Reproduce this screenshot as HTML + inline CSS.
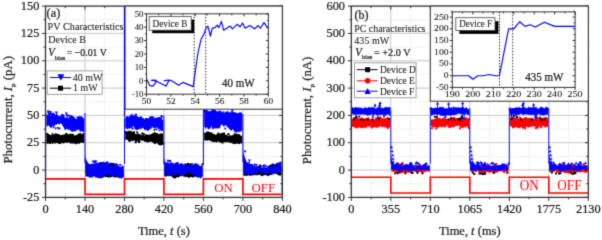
<!DOCTYPE html>
<html><head><meta charset="utf-8"><style>
html,body{margin:0;padding:0;background:#fff;width:602px;height:238px;overflow:hidden;position:relative}
text{font-family:"Liberation Serif", serif}
</style></head><body>
<svg width="602" height="238" viewBox="0 0 602 238" style="position:absolute;left:0;top:0">
<defs><filter id="bl" x="0" y="0" width="602" height="238" filterUnits="userSpaceOnUse" color-interpolation-filters="sRGB"><feConvolveMatrix order="3" kernelMatrix="0.01917 0.10012 0.01917 0.10012 0.52283 0.10012 0.01917 0.10012 0.01917" edgeMode="duplicate" preserveAlpha="false"/></filter></defs>
<rect width="602" height="238" fill="#fff"/>
<g font-family='"Liberation Serif", serif' fill="#1a1a1a" filter="url(#bl)">
<path d="M65.2 6.1V197.4M85.0 6.1V197.4M104.7 6.1V197.4M124.5 6.1V197.4M144.2 6.1V197.4M163.9 6.1V197.4M183.7 6.1V197.4M203.4 6.1V197.4M223.2 6.1V197.4M242.9 6.1V197.4M262.7 6.1V197.4M45.5 183.7H282.4M45.5 170.1H282.4M45.5 156.4H282.4M45.5 142.7H282.4M45.5 129.1H282.4M45.5 115.4H282.4M45.5 101.8H282.4M45.5 88.1H282.4M45.5 74.4H282.4M45.5 60.8H282.4M45.5 47.1H282.4M45.5 33.4H282.4M45.5 19.8H282.4" stroke="#e6e6e6" stroke-width="1" stroke-dasharray="1.5 1.5" fill="none"/>
<path d="M85.0 6.1V197.4M124.5 6.1V197.4M163.9 6.1V197.4M203.4 6.1V197.4M242.9 6.1V197.4M45.5 170.1H282.4M45.5 142.7H282.4M45.5 115.4H282.4M45.5 88.1H282.4M45.5 60.8H282.4M45.5 33.4H282.4" stroke="#cccccc" stroke-width="1" fill="none"/>
<path d="M45.5 178.9H85.0V194.4H124.5V178.9H163.9V194.4H203.4V178.9H242.9V194.4H282.4" stroke="#ff0000" stroke-width="1.6" fill="none"/>
<path d="M46.3 134.3L46.8 134.5L47.3 134.4L47.8 134.3L48.3 133.9L48.8 133.9L49.3 134.5L49.8 134.6L50.3 135.1L50.8 135.1L51.4 135.2L51.9 135.1L52.4 134.3L52.9 134.7L53.4 134.9L53.9 135.1L54.4 134.2L54.9 133.5L55.4 133.2L55.9 133.2L56.4 133.5L56.9 133.6L57.4 134.0L57.9 133.8L58.4 134.0L58.9 134.3L59.4 134.0L59.9 134.8L60.4 135.0L60.9 135.5L61.5 135.1L62.0 134.7L62.5 134.5L63.0 134.4L63.5 134.7L64.0 134.8L64.5 134.6L65.0 134.1L65.5 133.9L66.0 134.6L66.5 134.2L67.0 134.4L67.5 134.6L68.0 133.9L68.5 134.0L69.0 134.7L69.5 133.8L70.0 133.7L70.5 133.8L71.1 133.5L71.6 133.9L72.1 134.0L72.6 133.4L73.1 134.0L73.6 134.3L74.1 134.8L74.6 135.4L75.1 135.5L75.6 135.4L76.1 134.7L76.6 134.9L77.1 134.6L77.6 134.4L78.1 133.9L78.6 133.5L79.1 133.4L79.6 134.2L80.1 133.3L80.6 132.9L81.2 133.2L81.7 134.1L82.2 134.4L82.7 133.6L83.2 132.6L83.7 133.1L84.2 133.0L84.2 142.8L83.7 143.1L83.2 143.0L82.7 142.7L82.2 142.9L81.7 142.8L81.2 142.6L80.6 142.4L80.1 142.9L79.6 144.3L79.1 143.6L78.6 143.5L78.1 143.8L77.6 143.5L77.1 143.6L76.6 144.0L76.1 144.4L75.6 144.6L75.1 143.8L74.6 143.7L74.1 143.4L73.6 143.6L73.1 143.4L72.6 143.4L72.1 143.6L71.6 143.4L71.1 143.5L70.5 143.5L70.0 143.5L69.5 143.1L69.0 142.6L68.5 142.2L68.0 142.6L67.5 143.2L67.0 142.6L66.5 143.1L66.0 142.5L65.5 142.6L65.0 142.7L64.5 142.7L64.0 143.4L63.5 143.8L63.0 143.2L62.5 142.8L62.0 143.3L61.5 143.4L60.9 143.0L60.4 143.2L59.9 143.7L59.4 143.3L58.9 143.3L58.4 143.1L57.9 143.0L57.4 143.1L56.9 142.9L56.4 142.1L55.9 142.6L55.4 142.1L54.9 142.1L54.4 143.0L53.9 142.6L53.4 142.9L52.9 144.0L52.4 143.9L51.9 143.6L51.4 143.1L50.8 144.1L50.3 144.0L49.8 144.0L49.3 143.9L48.8 143.3L48.3 143.1L47.8 143.1L47.3 143.1L46.8 142.6L46.3 142.1z" fill="#000"/>
<path d="M46.2 133.0h2.0v2.0h-2.0zM65.3 134.3h2.0v2.0h-2.0zM65.9 134.5h2.0v2.0h-2.0zM65.3 133.0h2.0v2.0h-2.0zM78.0 133.5h2.0v2.0h-2.0zM55.2 133.9h2.0v2.0h-2.0zM51.6 133.3h2.0v2.0h-2.0zM65.5 133.3h2.0v2.0h-2.0z" fill="#000"/>
<path d="M57.8 141.8h2.0v2.0h-2.0zM76.0 140.8h2.0v2.0h-2.0zM77.6 141.1h2.0v2.0h-2.0zM76.3 141.2h2.0v2.0h-2.0zM53.9 141.4h2.0v2.0h-2.0zM58.8 142.1h2.0v2.0h-2.0zM46.4 141.7h2.0v2.0h-2.0zM55.1 141.1h2.0v2.0h-2.0z" fill="#000"/>
<path d="M46.3 114.0L46.8 113.8L47.3 115.5L47.8 114.6L48.3 115.1L48.8 114.8L49.3 114.8L49.8 115.2L50.3 115.2L50.8 115.5L51.4 114.4L51.9 113.5L52.4 114.0L52.9 113.5L53.4 113.0L53.9 112.3L54.4 113.4L54.9 114.0L55.4 115.0L55.9 114.4L56.4 114.5L56.9 113.8L57.4 114.4L57.9 115.5L58.4 114.9L58.9 115.9L59.4 116.4L59.9 116.2L60.4 114.9L60.9 115.8L61.5 115.7L62.0 115.3L62.5 115.6L63.0 115.8L63.5 116.7L64.0 116.0L64.5 116.7L65.0 117.5L65.5 118.2L66.0 117.8L66.5 117.1L67.0 117.6L67.5 117.5L68.0 117.4L68.5 118.1L69.0 117.8L69.5 116.2L70.0 116.0L70.5 115.0L71.1 115.6L71.6 116.0L72.1 115.7L72.6 115.8L73.1 116.4L73.6 116.5L74.1 117.4L74.6 117.3L75.1 117.9L75.6 118.7L76.1 119.4L76.6 118.8L77.1 119.1L77.6 117.8L78.1 117.1L78.6 115.9L79.1 116.7L79.6 116.1L80.1 116.3L80.6 116.3L81.2 116.5L81.7 116.3L82.2 116.6L82.7 117.8L83.2 117.8L83.7 118.2L84.2 118.8L84.2 132.1L83.7 131.9L83.2 132.2L82.7 132.1L82.2 130.8L81.7 130.4L81.2 129.9L80.6 132.3L80.1 132.0L79.6 131.2L79.1 129.0L78.6 129.6L78.1 130.4L77.6 130.3L77.1 129.6L76.6 129.9L76.1 130.9L75.6 131.2L75.1 131.5L74.6 131.0L74.1 130.9L73.6 131.2L73.1 132.3L72.6 131.8L72.1 131.6L71.6 132.1L71.1 130.7L70.5 130.3L70.0 131.3L69.5 129.4L69.0 129.0L68.5 130.6L68.0 129.0L67.5 129.5L67.0 129.8L66.5 128.7L66.0 127.9L65.5 129.7L65.0 129.4L64.5 128.8L64.0 127.6L63.5 127.2L63.0 126.4L62.5 125.4L62.0 124.3L61.5 124.1L60.9 123.3L60.4 123.3L59.9 124.7L59.4 124.4L58.9 123.2L58.4 124.3L57.9 124.3L57.4 123.5L56.9 125.0L56.4 124.3L55.9 124.8L55.4 124.5L54.9 125.4L54.4 125.8L53.9 126.3L53.4 126.6L52.9 125.6L52.4 125.9L51.9 127.0L51.4 128.0L50.8 127.9L50.3 127.2L49.8 127.1L49.3 126.3L48.8 125.2L48.3 125.5L47.8 126.7L47.3 125.6L46.8 125.9L46.3 126.8z" fill="#0000ff"/>
<path d="M60.8 114.0h3.0l-1.5 2.4zM75.8 116.8h3.0l-1.5 2.4zM50.5 112.8h3.0l-1.5 2.4zM66.4 115.0h3.0l-1.5 2.4zM48.2 114.1h3.0l-1.5 2.4zM70.9 116.0h3.0l-1.5 2.4zM47.5 112.5h3.0l-1.5 2.4zM68.8 115.1h3.0l-1.5 2.4zM48.0 112.7h3.0l-1.5 2.4zM47.3 112.6h3.0l-1.5 2.4zM62.0 115.1h3.0l-1.5 2.4zM65.8 114.5h3.0l-1.5 2.4z" fill="#0000ff"/>
<path d="M56.4 115.5V112.8M66.3 116.6V113.6M50.4 114.9V112.0M48.2 114.6V111.7" stroke="#0000ff" stroke-width="0.9" fill="none"/>
<path d="M54.8 111.6h3.2l-1.6 2.6zM64.7 112.5h3.2l-1.6 2.6zM48.8 110.9h3.2l-1.6 2.6zM46.6 110.6h3.2l-1.6 2.6z" fill="#0000ff"/>
<path d="M56.7 127.2h2.8l-1.4 2.2zM73.7 128.6h2.8l-1.4 2.2zM63.8 128.0h2.8l-1.4 2.2zM58.0 127.8h2.8l-1.4 2.2zM54.4 127.5h2.8l-1.4 2.2zM72.7 128.0h2.8l-1.4 2.2zM52.1 126.5h2.8l-1.4 2.2zM80.3 129.4h2.8l-1.4 2.2z" fill="#0000ff"/>
<path d="M125.3 132.4L125.8 132.0L126.3 131.2L126.8 131.4L127.3 131.1L127.8 131.7L128.3 131.3L128.8 130.3L129.3 130.2L129.8 131.2L130.3 131.3L130.8 130.8L131.3 130.8L131.8 131.3L132.3 131.7L132.8 131.9L133.3 132.7L133.9 133.0L134.4 133.0L134.9 133.2L135.4 133.9L135.9 134.2L136.4 134.5L136.9 133.7L137.4 133.5L137.9 133.8L138.4 133.5L138.9 133.9L139.4 134.1L139.9 134.3L140.4 134.0L140.9 135.0L141.4 135.3L141.9 134.9L142.4 134.7L142.9 135.6L143.5 135.1L144.0 135.2L144.5 135.4L145.0 135.0L145.5 134.3L146.0 134.2L146.5 134.2L147.0 134.6L147.5 134.8L148.0 134.6L148.5 134.8L149.0 134.8L149.5 134.7L150.0 134.6L150.5 134.3L151.0 134.5L151.5 133.9L152.0 133.6L152.5 133.6L153.0 132.9L153.6 132.8L154.1 132.1L154.6 132.0L155.1 132.5L155.6 133.0L156.1 133.1L156.6 133.1L157.1 132.6L157.6 133.6L158.1 133.9L158.6 134.4L159.1 133.9L159.6 133.8L160.1 133.0L160.6 133.5L161.1 134.0L161.6 133.2L162.1 133.3L162.6 133.7L163.1 133.0L163.1 144.5L162.6 145.1L162.1 144.6L161.6 145.3L161.1 145.2L160.6 145.5L160.1 145.5L159.6 145.3L159.1 145.1L158.6 144.7L158.1 144.6L157.6 143.6L157.1 143.2L156.6 143.0L156.1 143.2L155.6 144.4L155.1 144.0L154.6 144.0L154.1 143.5L153.6 143.6L153.0 142.4L152.5 142.5L152.0 142.0L151.5 141.7L151.0 141.7L150.5 141.5L150.0 141.8L149.5 141.9L149.0 141.9L148.5 142.4L148.0 142.7L147.5 142.5L147.0 142.0L146.5 141.9L146.0 141.8L145.5 142.0L145.0 141.9L144.5 141.4L144.0 141.0L143.5 140.8L142.9 140.6L142.4 141.0L141.9 140.7L141.4 140.2L140.9 140.6L140.4 140.3L139.9 140.4L139.4 141.5L138.9 141.4L138.4 141.6L137.9 141.6L137.4 141.3L136.9 140.8L136.4 140.9L135.9 140.7L135.4 140.7L134.9 140.5L134.4 140.3L133.9 140.6L133.3 141.3L132.8 140.9L132.3 140.7L131.8 140.6L131.3 140.9L130.8 141.4L130.3 141.6L129.8 142.3L129.3 141.8L128.8 141.0L128.3 140.6L127.8 140.1L127.3 139.7L126.8 139.4L126.3 139.8L125.8 139.9L125.3 140.2z" fill="#000"/>
<path d="M133.0 131.3h2.0v2.0h-2.0zM142.7 133.0h2.0v2.0h-2.0zM124.4 131.5h2.0v2.0h-2.0zM141.3 132.6h2.0v2.0h-2.0zM129.6 131.9h2.0v2.0h-2.0zM136.2 131.5h2.0v2.0h-2.0zM124.3 131.1h2.0v2.0h-2.0zM156.1 133.5h2.0v2.0h-2.0z" fill="#000"/>
<path d="M159.4 142.2h2.0v2.0h-2.0zM158.4 142.8h2.0v2.0h-2.0zM138.4 141.0h2.0v2.0h-2.0zM162.1 142.6h2.0v2.0h-2.0zM137.9 140.9h2.0v2.0h-2.0zM134.7 141.3h2.0v2.0h-2.0zM128.1 139.6h2.0v2.0h-2.0zM135.1 140.0h2.0v2.0h-2.0z" fill="#000"/>
<path d="M125.3 116.6L125.8 117.1L126.3 116.7L126.8 116.7L127.3 115.6L127.8 116.9L128.3 117.7L128.8 116.9L129.3 116.0L129.8 115.1L130.3 116.1L130.8 115.9L131.3 116.0L131.8 115.9L132.3 116.0L132.8 115.5L133.3 115.7L133.9 115.0L134.4 115.2L134.9 115.7L135.4 116.1L135.9 116.1L136.4 115.7L136.9 116.0L137.4 115.9L137.9 117.0L138.4 117.5L138.9 117.4L139.4 117.2L139.9 116.8L140.4 116.3L140.9 116.2L141.4 116.6L141.9 117.0L142.4 117.4L142.9 118.7L143.5 118.1L144.0 118.1L144.5 119.7L145.0 118.4L145.5 118.0L146.0 118.0L146.5 118.1L147.0 118.3L147.5 118.1L148.0 118.3L148.5 118.3L149.0 118.7L149.5 117.5L150.0 117.0L150.5 117.1L151.0 116.6L151.5 116.1L152.0 116.8L152.5 116.5L153.0 117.1L153.6 117.7L154.1 117.9L154.6 118.2L155.1 118.2L155.6 117.3L156.1 117.4L156.6 117.8L157.1 117.5L157.6 117.6L158.1 118.1L158.6 117.6L159.1 118.1L159.6 119.2L160.1 118.8L160.6 118.9L161.1 118.7L161.6 119.6L162.1 119.7L162.6 120.1L163.1 119.5L163.1 131.5L162.6 130.8L162.1 130.8L161.6 130.9L161.1 131.6L160.6 129.7L160.1 130.3L159.6 128.9L159.1 128.5L158.6 128.9L158.1 128.5L157.6 128.5L157.1 127.5L156.6 127.2L156.1 127.5L155.6 128.6L155.1 128.1L154.6 128.4L154.1 128.5L153.6 127.5L153.0 127.7L152.5 127.2L152.0 126.9L151.5 128.3L151.0 129.2L150.5 128.8L150.0 129.3L149.5 129.3L149.0 130.6L148.5 130.6L148.0 130.8L147.5 131.4L147.0 130.3L146.5 129.7L146.0 129.7L145.5 130.4L145.0 129.8L144.5 130.2L144.0 129.1L143.5 128.1L142.9 128.2L142.4 128.2L141.9 128.1L141.4 127.6L140.9 127.9L140.4 127.9L139.9 128.9L139.4 128.6L138.9 128.3L138.4 129.2L137.9 130.2L137.4 129.8L136.9 129.5L136.4 130.2L135.9 130.8L135.4 129.0L134.9 128.8L134.4 128.4L133.9 126.7L133.3 126.1L132.8 126.9L132.3 127.8L131.8 128.6L131.3 129.1L130.8 127.8L130.3 127.8L129.8 129.1L129.3 128.8L128.8 128.4L128.3 128.4L127.8 127.7L127.3 129.2L126.8 128.4L126.3 127.1L125.8 128.5L125.3 128.5z" fill="#0000ff"/>
<path d="M149.0 116.5h3.0l-1.5 2.4zM129.3 116.6h3.0l-1.5 2.4zM131.8 115.7h3.0l-1.5 2.4zM129.1 117.2h3.0l-1.5 2.4zM126.0 116.5h3.0l-1.5 2.4zM157.8 117.1h3.0l-1.5 2.4zM151.5 116.6h3.0l-1.5 2.4zM159.1 118.1h3.0l-1.5 2.4zM130.8 115.7h3.0l-1.5 2.4zM152.0 118.3h3.0l-1.5 2.4zM148.9 117.6h3.0l-1.5 2.4zM137.9 117.1h3.0l-1.5 2.4z" fill="#0000ff"/>
<path d="M131.7 117.9V115.4M135.9 118.1V114.9M161.5 119.3V116.6M161.8 119.3V116.4" stroke="#0000ff" stroke-width="0.9" fill="none"/>
<path d="M130.1 114.3h3.2l-1.6 2.6zM134.3 113.8h3.2l-1.6 2.6zM159.9 115.5h3.2l-1.6 2.6zM160.2 115.3h3.2l-1.6 2.6z" fill="#0000ff"/>
<path d="M137.4 127.3h2.8l-1.4 2.2zM155.0 128.6h2.8l-1.4 2.2zM125.7 127.5h2.8l-1.4 2.2zM138.0 127.1h2.8l-1.4 2.2zM131.2 127.9h2.8l-1.4 2.2zM157.8 129.4h2.8l-1.4 2.2zM139.4 127.4h2.8l-1.4 2.2zM152.9 129.2h2.8l-1.4 2.2z" fill="#0000ff"/>
<path d="M204.2 132.4L204.7 132.4L205.2 132.7L205.7 132.5L206.3 132.5L206.8 131.6L207.3 131.6L207.8 132.0L208.3 132.8L208.8 132.6L209.3 132.6L209.8 133.4L210.3 133.1L210.8 133.5L211.3 134.1L211.8 134.0L212.3 134.4L212.8 133.9L213.3 133.9L213.8 133.8L214.3 133.8L214.8 134.2L215.3 135.2L215.9 134.6L216.4 134.2L216.9 134.3L217.4 133.7L217.9 133.9L218.4 134.1L218.9 133.9L219.4 134.1L219.9 133.4L220.4 133.8L220.9 133.1L221.4 132.9L221.9 132.8L222.4 132.8L222.9 133.4L223.4 133.5L223.9 133.4L224.4 133.8L224.9 134.6L225.4 134.5L226.0 134.6L226.5 135.1L227.0 135.2L227.5 134.5L228.0 135.6L228.5 136.4L229.0 135.2L229.5 135.1L230.0 135.2L230.5 135.6L231.0 135.7L231.5 135.5L232.0 134.9L232.5 134.9L233.0 135.4L233.5 134.8L234.0 134.4L234.5 134.5L235.0 133.7L235.6 133.8L236.1 133.8L236.6 134.2L237.1 134.0L237.6 133.8L238.1 133.9L238.6 134.1L239.1 134.0L239.6 134.2L240.1 134.7L240.6 135.4L241.1 136.2L241.6 135.7L242.1 135.5L242.1 143.7L241.6 143.7L241.1 143.0L240.6 142.9L240.1 143.2L239.6 142.5L239.1 143.3L238.6 142.9L238.1 143.7L237.6 143.8L237.1 142.8L236.6 143.1L236.1 143.1L235.6 142.9L235.0 143.1L234.5 144.5L234.0 143.6L233.5 143.3L233.0 143.7L232.5 143.3L232.0 143.6L231.5 142.5L231.0 143.0L230.5 142.8L230.0 143.2L229.5 142.6L229.0 142.1L228.5 142.2L228.0 142.3L227.5 141.9L227.0 142.3L226.5 142.2L226.0 141.9L225.4 142.5L224.9 142.4L224.4 142.0L223.9 142.1L223.4 142.4L222.9 142.6L222.4 142.7L221.9 142.3L221.4 142.6L220.9 142.9L220.4 142.3L219.9 142.4L219.4 142.2L218.9 142.1L218.4 141.6L217.9 141.4L217.4 141.8L216.9 142.4L216.4 142.6L215.9 142.5L215.3 141.7L214.8 141.8L214.3 142.2L213.8 141.9L213.3 142.2L212.8 141.9L212.3 142.0L211.8 141.5L211.3 141.2L210.8 140.9L210.3 140.7L209.8 140.2L209.3 141.0L208.8 140.3L208.3 140.0L207.8 140.7L207.3 140.6L206.8 140.3L206.3 140.9L205.7 140.5L205.2 140.5L204.7 140.7L204.2 139.7z" fill="#000"/>
<path d="M227.5 132.9h2.0v2.0h-2.0zM206.6 131.6h2.0v2.0h-2.0zM217.3 132.6h2.0v2.0h-2.0zM208.8 132.2h2.0v2.0h-2.0zM223.0 132.5h2.0v2.0h-2.0zM207.4 131.8h2.0v2.0h-2.0zM233.7 133.3h2.0v2.0h-2.0zM210.7 132.6h2.0v2.0h-2.0z" fill="#000"/>
<path d="M239.0 141.1h2.0v2.0h-2.0zM221.5 141.4h2.0v2.0h-2.0zM238.3 141.9h2.0v2.0h-2.0zM237.5 141.5h2.0v2.0h-2.0zM234.5 142.0h2.0v2.0h-2.0zM233.0 141.9h2.0v2.0h-2.0zM218.6 140.0h2.0v2.0h-2.0zM234.6 142.0h2.0v2.0h-2.0z" fill="#000"/>
<path d="M204.2 110.9L204.7 111.5L205.2 110.9L205.7 110.9L206.3 111.2L206.8 111.6L207.3 111.3L207.8 110.1L208.3 111.0L208.8 111.2L209.3 111.3L209.8 111.1L210.3 111.4L210.8 111.1L211.3 110.6L211.8 110.3L212.3 110.1L212.8 109.9L213.3 109.5L213.8 110.1L214.3 109.5L214.8 110.2L215.3 109.8L215.9 110.3L216.4 111.3L216.9 111.6L217.4 111.2L217.9 111.3L218.4 111.5L218.9 110.6L219.4 110.4L219.9 110.7L220.4 110.7L220.9 110.9L221.4 111.5L221.9 112.1L222.4 112.7L222.9 113.0L223.4 112.8L223.9 112.8L224.4 112.6L224.9 112.4L225.4 112.4L226.0 111.4L226.5 111.4L227.0 111.5L227.5 111.1L228.0 111.3L228.5 111.8L229.0 111.9L229.5 113.3L230.0 111.7L230.5 111.7L231.0 110.8L231.5 111.7L232.0 113.5L232.5 112.0L233.0 112.2L233.5 112.7L234.0 112.6L234.5 113.0L235.0 111.7L235.6 112.5L236.1 112.8L236.6 112.9L237.1 112.7L237.6 113.2L238.1 113.0L238.6 113.2L239.1 113.0L239.6 111.7L240.1 112.0L240.6 112.3L241.1 113.0L241.6 112.6L242.1 112.8L242.1 130.7L241.6 131.2L241.1 129.9L240.6 130.6L240.1 131.2L239.6 131.6L239.1 132.5L238.6 132.6L238.1 131.6L237.6 131.4L237.1 132.1L236.6 133.5L236.1 132.8L235.6 132.4L235.0 131.7L234.5 131.4L234.0 131.5L233.5 130.1L233.0 128.7L232.5 129.3L232.0 129.9L231.5 130.3L231.0 130.8L230.5 129.8L230.0 129.6L229.5 129.1L229.0 128.4L228.5 128.2L228.0 127.2L227.5 127.1L227.0 126.9L226.5 126.0L226.0 125.2L225.4 124.8L224.9 126.1L224.4 126.3L223.9 126.7L223.4 126.3L222.9 125.4L222.4 124.9L221.9 124.4L221.4 124.5L220.9 125.0L220.4 126.5L219.9 127.9L219.4 128.5L218.9 128.2L218.4 128.4L217.9 128.5L217.4 128.3L216.9 128.8L216.4 127.7L215.9 128.6L215.3 128.7L214.8 127.6L214.3 128.3L213.8 128.1L213.3 128.8L212.8 129.6L212.3 128.0L211.8 125.8L211.3 126.5L210.8 128.0L210.3 128.8L209.8 128.2L209.3 129.0L208.8 129.7L208.3 129.3L207.8 128.8L207.3 127.6L206.8 126.8L206.3 128.5L205.7 129.6L205.2 128.1L204.7 127.1L204.2 127.0z" fill="#0000ff"/>
<path d="M212.1 110.4h3.0l-1.5 2.4zM204.4 110.4h3.0l-1.5 2.4zM218.1 112.0h3.0l-1.5 2.4zM204.9 110.0h3.0l-1.5 2.4zM203.2 110.3h3.0l-1.5 2.4zM238.4 113.8h3.0l-1.5 2.4zM210.3 110.8h3.0l-1.5 2.4zM221.9 111.6h3.0l-1.5 2.4zM233.5 113.4h3.0l-1.5 2.4zM214.5 111.6h3.0l-1.5 2.4zM204.6 109.8h3.0l-1.5 2.4zM232.4 112.3h3.0l-1.5 2.4z" fill="#0000ff"/>
<path d="M204.5 111.8V107.6M232.5 114.0V110.6M232.3 114.0V110.6M212.8 112.5V109.8" stroke="#0000ff" stroke-width="0.9" fill="none"/>
<path d="M202.9 106.5h3.2l-1.6 2.6zM230.9 109.5h3.2l-1.6 2.6zM230.7 109.5h3.2l-1.6 2.6zM211.2 108.6h3.2l-1.6 2.6z" fill="#0000ff"/>
<path d="M211.6 127.2h2.8l-1.4 2.2zM215.5 126.3h2.8l-1.4 2.2zM229.2 127.6h2.8l-1.4 2.2zM229.8 128.7h2.8l-1.4 2.2zM223.8 127.8h2.8l-1.4 2.2zM232.7 128.5h2.8l-1.4 2.2zM212.9 126.2h2.8l-1.4 2.2zM239.4 129.8h2.8l-1.4 2.2z" fill="#0000ff"/>
<path d="M85.5 157.6L86.0 160.9L86.5 162.7L87.0 164.0L87.5 164.4L88.0 163.7L88.5 164.0L89.0 163.9L89.5 164.4L90.0 164.3L90.5 164.5L91.0 165.6L91.5 165.1L92.0 164.8L92.5 164.3L93.0 163.6L93.5 163.2L94.0 163.7L94.5 163.8L95.0 163.4L95.5 163.2L96.0 163.9L96.5 163.9L97.0 164.1L97.5 164.5L98.0 165.4L98.5 166.3L99.0 166.7L99.6 166.7L100.1 166.8L100.6 167.5L101.1 167.9L101.6 167.6L102.1 167.7L102.6 167.7L103.1 167.6L103.6 167.3L104.1 166.7L104.6 166.6L105.1 166.0L105.6 166.7L106.1 167.0L106.6 166.6L107.1 167.2L107.6 167.6L108.1 166.8L108.6 167.7L109.1 168.0L109.6 168.8L110.1 168.1L110.6 168.3L111.1 168.4L111.6 168.4L112.1 168.4L112.6 168.8L113.1 168.1L113.6 167.6L114.1 167.1L114.6 167.1L115.1 167.0L115.6 167.4L116.1 167.6L116.6 167.8L117.1 167.6L117.6 167.6L118.1 168.1L118.6 168.5L119.1 168.6L119.6 168.5L120.1 169.2L120.7 168.9L121.2 169.2L121.7 169.7L122.2 169.5L122.7 169.8L123.2 169.2L123.7 169.7L123.7 177.7L123.2 177.4L122.7 177.3L122.2 177.1L121.7 176.9L121.2 177.7L120.7 178.0L120.1 177.7L119.6 177.6L119.1 177.9L118.6 177.7L118.1 177.4L117.6 177.1L117.1 177.6L116.6 177.6L116.1 177.2L115.6 176.9L115.1 177.5L114.6 178.0L114.1 177.3L113.6 176.8L113.1 176.4L112.6 176.5L112.1 177.0L111.6 177.0L111.1 177.1L110.6 177.8L110.1 177.4L109.6 177.4L109.1 176.8L108.6 177.4L108.1 177.8L107.6 177.4L107.1 177.1L106.6 177.0L106.1 177.0L105.6 176.9L105.1 177.0L104.6 176.8L104.1 176.5L103.6 176.7L103.1 177.0L102.6 177.3L102.1 178.1L101.6 178.5L101.1 178.4L100.6 177.9L100.1 177.6L99.6 177.2L99.0 177.7L98.5 178.0L98.0 177.9L97.5 178.1L97.0 177.1L96.5 177.2L96.0 176.5L95.5 177.0L95.0 176.5L94.5 176.1L94.0 175.9L93.5 176.6L93.0 176.5L92.5 175.9L92.0 177.0L91.5 176.9L91.0 176.9L90.5 176.6L90.0 176.8L89.5 176.6L89.0 176.7L88.5 176.6L88.0 176.6L87.5 176.9L87.0 176.3L86.5 176.6L86.0 176.2L85.5 176.9z" fill="#000"/>
<path d="M85.3 154.2L85.8 157.6L86.3 159.3L86.8 160.6L87.3 162.0L87.8 162.0L88.3 163.2L88.8 163.8L89.3 164.0L89.8 164.1L90.3 164.7L90.8 164.3L91.3 164.0L91.8 163.3L92.4 163.4L92.9 164.0L93.4 164.1L93.9 164.1L94.4 163.8L94.9 163.8L95.4 162.9L95.9 163.5L96.4 163.2L96.9 162.7L97.4 162.4L97.9 162.1L98.4 162.7L98.9 163.4L99.4 162.7L99.9 163.3L100.4 163.8L100.9 163.5L101.4 162.8L101.9 162.6L102.5 162.4L103.0 162.8L103.5 162.8L104.0 162.0L104.5 162.4L105.0 161.9L105.5 162.7L106.0 162.3L106.5 162.3L107.0 162.2L107.5 162.2L108.0 163.2L108.5 163.9L109.0 164.3L109.5 164.5L110.0 163.8L110.5 163.7L111.0 163.6L111.5 163.3L112.1 163.8L112.6 163.6L113.1 163.5L113.6 163.2L114.1 162.5L114.6 163.2L115.1 164.2L115.6 164.4L116.1 164.1L116.6 163.0L117.1 163.4L117.6 164.4L118.1 164.7L118.6 165.3L119.1 166.1L119.6 166.7L120.1 166.3L120.6 166.8L121.1 167.1L121.6 166.2L122.2 166.0L122.7 165.3L123.2 165.4L123.7 165.8L123.7 177.3L123.2 177.3L122.7 177.2L122.2 177.9L121.6 178.6L121.1 179.0L120.6 177.5L120.1 178.0L119.6 178.4L119.1 177.7L118.6 177.1L118.1 178.1L117.6 177.3L117.1 177.0L116.6 175.8L116.1 176.5L115.6 175.2L115.1 175.8L114.6 176.2L114.1 175.8L113.6 176.9L113.1 176.2L112.6 176.6L112.1 176.1L111.5 176.3L111.0 176.4L110.5 175.2L110.0 174.9L109.5 175.3L109.0 174.7L108.5 175.0L108.0 175.5L107.5 175.1L107.0 175.6L106.5 175.3L106.0 175.3L105.5 175.7L105.0 175.6L104.5 176.3L104.0 177.8L103.5 177.5L103.0 176.9L102.5 177.9L101.9 176.2L101.4 176.0L100.9 175.9L100.4 177.0L99.9 178.4L99.4 178.5L98.9 178.0L98.4 177.4L97.9 177.4L97.4 178.2L96.9 177.2L96.4 177.3L95.9 178.0L95.4 177.5L94.9 176.5L94.4 176.5L93.9 176.1L93.4 176.7L92.9 176.3L92.4 177.6L91.8 177.9L91.3 177.5L90.8 177.0L90.3 177.5L89.8 177.6L89.3 178.2L88.8 177.1L88.3 175.7L87.8 174.9L87.3 175.9L86.8 174.8L86.3 174.4L85.8 173.1L85.3 174.5z" fill="#0000ff"/>
<path d="M94.1 161.1h3.0l-1.5 2.4zM98.2 162.7h3.0l-1.5 2.4zM118.6 164.1h3.0l-1.5 2.4zM91.6 160.6h3.0l-1.5 2.4zM107.8 162.8h3.0l-1.5 2.4zM110.0 162.8h3.0l-1.5 2.4zM114.4 163.5h3.0l-1.5 2.4zM92.7 161.1h3.0l-1.5 2.4zM105.0 162.5h3.0l-1.5 2.4zM101.6 161.8h3.0l-1.5 2.4z" fill="#0000ff"/>
<path d="M107.3 165.0V162.5M95.6 163.6V161.3" stroke="#0000ff" stroke-width="0.9" fill="none"/>
<path d="M105.8 161.4h3.0l-1.5 2.4zM94.1 160.2h3.0l-1.5 2.4z" fill="#0000ff"/>
<path d="M110.9 164.1h2.0v2.0h-2.0zM110.3 163.9h2.0v2.0h-2.0zM110.9 163.7h2.0v2.0h-2.0zM112.0 163.6h2.0v2.0h-2.0zM99.6 162.1h2.0v2.0h-2.0z" fill="#000"/>
<path d="M102.8 174.2h2.6l-1.3 2.1zM110.1 173.9h2.6l-1.3 2.1zM99.4 174.4h2.6l-1.3 2.1zM120.9 175.3h2.6l-1.3 2.1zM109.1 174.2h2.6l-1.3 2.1zM86.7 173.9h2.6l-1.3 2.1zM110.7 173.8h2.6l-1.3 2.1zM97.8 173.5h2.6l-1.3 2.1z" fill="#0000ff"/>
<path d="M164.4 160.5L165.0 163.5L165.5 165.1L166.0 165.9L166.5 166.2L167.0 165.9L167.5 165.8L168.0 166.7L168.5 166.5L169.0 166.9L169.5 166.3L170.0 166.3L170.5 166.5L171.0 167.0L171.5 166.6L172.0 166.9L172.5 167.1L173.0 166.8L173.5 167.1L174.0 166.7L174.5 166.5L175.0 166.6L175.5 165.6L176.0 165.8L176.5 165.6L177.0 165.2L177.5 165.4L178.0 165.9L178.5 166.0L179.0 166.7L179.5 166.3L180.0 165.9L180.5 166.7L181.0 167.0L181.5 167.4L182.0 167.0L182.5 167.4L183.0 167.5L183.5 167.7L184.0 167.7L184.5 168.1L185.0 167.7L185.6 167.3L186.1 166.7L186.6 167.2L187.1 167.0L187.6 166.6L188.1 166.3L188.6 166.3L189.1 166.0L189.6 166.1L190.1 166.0L190.6 166.0L191.1 165.8L191.6 166.1L192.1 166.1L192.6 166.3L193.1 166.6L193.6 166.8L194.1 166.1L194.6 166.1L195.1 165.9L195.6 166.5L196.1 166.0L196.6 165.9L197.1 166.0L197.6 166.1L198.1 166.7L198.6 166.7L199.1 167.2L199.6 166.6L200.1 166.0L200.6 166.7L201.1 167.0L201.6 167.3L202.1 167.4L202.6 167.6L202.6 176.7L202.1 176.9L201.6 177.3L201.1 177.5L200.6 176.8L200.1 176.3L199.6 176.6L199.1 177.4L198.6 177.8L198.1 177.5L197.6 176.5L197.1 176.6L196.6 177.0L196.1 177.4L195.6 176.7L195.1 176.2L194.6 176.7L194.1 177.1L193.6 177.6L193.1 177.2L192.6 177.8L192.1 177.3L191.6 176.9L191.1 176.7L190.6 177.4L190.1 177.1L189.6 177.6L189.1 177.7L188.6 178.1L188.1 177.5L187.6 177.2L187.1 176.6L186.6 176.9L186.1 177.1L185.6 177.1L185.0 177.2L184.5 176.6L184.0 176.6L183.5 176.7L183.0 175.5L182.5 175.3L182.0 174.8L181.5 175.5L181.0 175.9L180.5 176.3L180.0 176.4L179.5 176.4L179.0 177.3L178.5 177.6L178.0 177.5L177.5 176.9L177.0 177.3L176.5 177.4L176.0 177.9L175.5 178.2L175.0 178.5L174.5 178.7L174.0 178.6L173.5 178.2L173.0 177.6L172.5 176.9L172.0 176.9L171.5 176.3L171.0 176.1L170.5 176.0L170.0 176.1L169.5 176.3L169.0 176.1L168.5 176.2L168.0 176.2L167.5 175.6L167.0 176.0L166.5 176.8L166.0 176.8L165.5 176.4L165.0 176.6L164.4 176.1z" fill="#000"/>
<path d="M164.2 157.1L164.8 160.5L165.3 161.5L165.8 163.0L166.3 162.6L166.8 162.3L167.3 162.8L167.8 162.6L168.3 163.3L168.8 163.4L169.3 162.9L169.8 163.4L170.3 164.0L170.8 163.0L171.3 164.1L171.8 164.4L172.3 164.7L172.8 163.7L173.3 163.4L173.8 163.3L174.4 164.0L174.9 163.3L175.4 163.0L175.9 162.2L176.4 162.3L176.9 162.8L177.4 162.2L177.9 162.2L178.4 162.7L178.9 163.8L179.4 164.2L179.9 164.0L180.4 163.5L180.9 163.1L181.4 163.0L181.9 163.2L182.4 163.4L182.9 164.3L183.4 164.5L183.9 163.9L184.5 164.7L185.0 165.1L185.5 165.1L186.0 164.6L186.5 163.6L187.0 163.2L187.5 163.8L188.0 163.5L188.5 163.0L189.0 163.3L189.5 163.6L190.0 164.0L190.5 164.4L191.0 165.1L191.5 164.6L192.0 165.0L192.5 164.4L193.0 164.8L193.5 164.8L194.0 164.9L194.6 165.3L195.1 165.2L195.6 165.6L196.1 165.9L196.6 165.7L197.1 165.3L197.6 164.8L198.1 164.5L198.6 164.4L199.1 164.4L199.6 165.9L200.1 166.0L200.6 166.2L201.1 165.5L201.6 165.0L202.1 164.8L202.6 164.8L202.6 176.3L202.1 176.3L201.6 177.3L201.1 178.6L200.6 178.6L200.1 178.2L199.6 177.2L199.1 176.9L198.6 176.7L198.1 178.3L197.6 177.7L197.1 176.3L196.6 176.1L196.1 175.9L195.6 174.2L195.1 174.6L194.6 174.6L194.0 174.7L193.5 174.7L193.0 174.2L192.5 174.0L192.0 173.8L191.5 174.1L191.0 173.5L190.5 173.3L190.0 172.5L189.5 171.5L189.0 171.6L188.5 172.2L188.0 172.3L187.5 172.1L187.0 173.6L186.5 173.3L186.0 172.8L185.5 172.0L185.0 173.4L184.5 174.5L183.9 175.7L183.4 175.5L182.9 175.8L182.4 175.9L181.9 177.0L181.4 175.9L180.9 175.3L180.4 175.4L179.9 175.3L179.4 175.3L178.9 175.9L178.4 173.5L177.9 173.1L177.4 173.3L176.9 173.7L176.4 173.8L175.9 175.2L175.4 176.6L174.9 175.8L174.4 176.0L173.8 174.7L173.3 173.1L172.8 173.3L172.3 173.7L171.8 173.6L171.3 173.1L170.8 172.2L170.3 173.7L169.8 174.0L169.3 175.4L168.8 175.3L168.3 175.2L167.8 174.7L167.3 174.5L166.8 174.2L166.3 174.0L165.8 175.8L165.3 175.0L164.8 175.5L164.2 174.3z" fill="#0000ff"/>
<path d="M194.6 163.5h3.0l-1.5 2.4zM187.5 164.0h3.0l-1.5 2.4zM172.6 164.0h3.0l-1.5 2.4zM190.6 163.3h3.0l-1.5 2.4zM169.8 162.5h3.0l-1.5 2.4zM174.2 163.3h3.0l-1.5 2.4zM170.2 163.5h3.0l-1.5 2.4zM195.2 163.8h3.0l-1.5 2.4zM170.6 163.1h3.0l-1.5 2.4zM176.1 162.5h3.0l-1.5 2.4z" fill="#0000ff"/>
<path d="M170.1 165.0V161.1M168.0 164.7V160.9" stroke="#0000ff" stroke-width="0.9" fill="none"/>
<path d="M168.6 160.0h3.0l-1.5 2.4zM166.5 159.8h3.0l-1.5 2.4z" fill="#0000ff"/>
<path d="M193.9 163.7h2.0v2.0h-2.0zM189.5 163.6h2.0v2.0h-2.0zM184.4 163.6h2.0v2.0h-2.0zM186.9 163.0h2.0v2.0h-2.0zM201.6 163.3h2.0v2.0h-2.0z" fill="#000"/>
<path d="M168.2 174.2h2.6l-1.3 2.1zM197.5 174.5h2.6l-1.3 2.1zM191.3 174.1h2.6l-1.3 2.1zM200.5 174.6h2.6l-1.3 2.1zM194.3 174.1h2.6l-1.3 2.1zM169.8 174.6h2.6l-1.3 2.1zM195.2 173.8h2.6l-1.3 2.1zM171.5 173.9h2.6l-1.3 2.1z" fill="#0000ff"/>
<path d="M243.4 153.6L243.9 155.9L244.4 157.6L244.9 159.2L245.4 160.9L245.9 162.6L246.4 163.4L246.9 163.8L247.4 164.6L247.9 165.2L248.4 165.3L248.9 165.4L249.4 165.8L249.9 166.4L250.5 166.2L251.0 166.2L251.5 166.7L252.0 166.5L252.5 166.9L253.0 167.3L253.5 167.5L254.0 167.3L254.5 167.5L255.0 167.6L255.5 167.9L256.0 167.8L256.5 168.4L257.0 167.9L257.5 168.0L258.0 168.2L258.5 168.8L259.0 168.6L259.5 169.0L260.0 168.8L260.5 169.2L261.0 170.0L261.5 169.7L262.0 169.9L262.5 169.4L263.0 169.8L263.5 170.3L264.0 170.2L264.5 169.6L265.0 169.7L265.5 170.1L266.0 170.4L266.5 170.6L267.0 169.7L267.5 169.3L268.0 169.8L268.5 169.2L269.0 169.6L269.5 170.3L270.0 170.3L270.5 170.5L271.0 170.1L271.6 169.4L272.1 169.2L272.6 169.0L273.1 168.8L273.6 169.0L274.1 168.8L274.6 168.7L275.1 168.7L275.6 168.5L276.1 169.1L276.6 169.0L277.1 168.8L277.6 168.4L278.1 167.9L278.6 168.3L279.1 168.1L279.6 167.4L280.1 167.0L280.6 166.8L281.1 166.5L281.6 166.9L281.6 175.2L281.1 175.3L280.6 175.7L280.1 175.3L279.6 175.5L279.1 175.8L278.6 175.4L278.1 175.1L277.6 174.7L277.1 174.0L276.6 174.1L276.1 174.0L275.6 173.5L275.1 173.3L274.6 173.6L274.1 173.6L273.6 173.6L273.1 173.6L272.6 174.4L272.1 174.6L271.6 174.7L271.0 174.9L270.5 175.1L270.0 175.2L269.5 175.1L269.0 176.0L268.5 175.8L268.0 176.2L267.5 175.8L267.0 176.0L266.5 175.3L266.0 175.3L265.5 175.1L265.0 174.8L264.5 175.3L264.0 175.3L263.5 175.4L263.0 175.8L262.5 176.2L262.0 175.8L261.5 175.9L261.0 176.2L260.5 175.3L260.0 175.1L259.5 174.5L259.0 175.1L258.5 174.7L258.0 175.5L257.5 175.2L257.0 174.6L256.5 175.6L256.0 175.2L255.5 175.1L255.0 175.4L254.5 175.3L254.0 174.6L253.5 175.3L253.0 175.7L252.5 175.4L252.0 175.0L251.5 175.2L251.0 176.1L250.5 175.6L249.9 175.9L249.4 175.9L248.9 175.4L248.4 174.9L247.9 175.2L247.4 175.9L246.9 175.8L246.4 175.9L245.9 175.7L245.4 175.7L244.9 175.6L244.4 176.1L243.9 176.0L243.4 175.7z" fill="#000"/>
<path d="M243.2 150.6L243.7 153.1L244.2 154.9L244.7 157.0L245.2 158.2L245.7 159.6L246.2 161.0L246.8 161.9L247.3 162.8L247.8 162.5L248.3 162.3L248.8 162.4L249.3 163.1L249.8 164.1L250.3 163.7L250.8 164.1L251.3 163.9L251.8 163.8L252.3 163.9L252.8 164.5L253.3 164.8L253.8 165.6L254.3 165.1L254.8 165.7L255.3 166.2L255.8 166.3L256.3 166.5L256.9 166.2L257.4 165.6L257.9 165.5L258.4 165.4L258.9 167.0L259.4 166.6L259.9 167.4L260.4 167.4L260.9 167.4L261.4 167.7L261.9 167.1L262.4 167.5L262.9 167.5L263.4 166.6L263.9 166.9L264.4 167.1L264.9 167.2L265.4 167.9L265.9 167.4L266.4 167.5L267.0 167.7L267.5 167.0L268.0 167.5L268.5 166.5L269.0 165.8L269.5 166.1L270.0 165.5L270.5 165.4L271.0 164.6L271.5 164.8L272.0 164.3L272.5 164.6L273.0 163.9L273.5 164.3L274.0 164.3L274.5 164.4L275.0 164.4L275.5 164.5L276.0 163.8L276.5 162.6L277.1 162.9L277.6 162.6L278.1 162.5L278.6 162.9L279.1 162.0L279.6 161.9L280.1 161.8L280.6 161.4L281.1 161.8L281.6 161.9L281.6 173.0L281.1 170.9L280.6 172.1L280.1 172.7L279.6 173.4L279.1 173.0L278.6 172.7L278.1 172.7L277.6 173.6L277.1 173.1L276.5 172.7L276.0 173.1L275.5 172.4L275.0 174.5L274.5 173.7L274.0 174.5L273.5 173.7L273.0 173.8L272.5 174.2L272.0 174.6L271.5 173.3L271.0 172.6L270.5 172.1L270.0 172.1L269.5 173.4L269.0 173.4L268.5 172.6L268.0 172.0L267.5 172.8L267.0 172.8L266.4 171.7L265.9 172.2L265.4 173.4L264.9 172.7L264.4 173.4L263.9 172.9L263.4 172.1L262.9 172.7L262.4 173.0L261.9 171.3L261.4 172.0L260.9 170.8L260.4 171.0L259.9 171.2L259.4 171.1L258.9 170.7L258.4 171.1L257.9 171.3L257.4 173.7L256.9 174.3L256.3 173.1L255.8 173.3L255.3 174.1L254.8 174.1L254.3 173.8L253.8 172.9L253.3 174.3L252.8 174.5L252.3 174.1L251.8 175.3L251.3 174.7L250.8 175.1L250.3 174.6L249.8 174.9L249.3 175.3L248.8 174.6L248.3 174.0L247.8 173.3L247.3 172.9L246.8 172.6L246.2 173.2L245.7 174.6L245.2 174.2L244.7 173.7L244.2 174.1L243.7 173.4L243.2 174.0z" fill="#0000ff"/>
<path d="M266.8 166.2h3.0l-1.5 2.4zM258.5 164.6h3.0l-1.5 2.4zM254.7 164.1h3.0l-1.5 2.4zM243.6 150.6h3.0l-1.5 2.4zM274.3 164.1h3.0l-1.5 2.4zM267.9 165.8h3.0l-1.5 2.4zM261.7 165.3h3.0l-1.5 2.4zM253.2 163.7h3.0l-1.5 2.4zM262.9 164.5h3.0l-1.5 2.4zM264.5 165.6h3.0l-1.5 2.4z" fill="#0000ff"/>
<path d="M249.4 163.0V160.7M272.8 166.8V164.5" stroke="#0000ff" stroke-width="0.9" fill="none"/>
<path d="M247.9 159.6h3.0l-1.5 2.4zM271.3 163.5h3.0l-1.5 2.4z" fill="#0000ff"/>
<path d="M259.7 165.6h2.0v2.0h-2.0zM269.5 164.8h2.0v2.0h-2.0zM271.6 164.6h2.0v2.0h-2.0zM258.8 165.7h2.0v2.0h-2.0zM275.3 164.2h2.0v2.0h-2.0z" fill="#000"/>
<path d="M269.9 172.7h2.6l-1.3 2.1zM249.8 173.6h2.6l-1.3 2.1zM247.3 172.7h2.6l-1.3 2.1zM265.0 172.9h2.6l-1.3 2.1zM260.1 173.0h2.6l-1.3 2.1zM245.6 172.8h2.6l-1.3 2.1zM265.0 171.9h2.6l-1.3 2.1zM259.7 172.6h2.6l-1.3 2.1z" fill="#0000ff"/>
<path d="M45.6 197V113M85.0 113V163M124.5 118V164M163.9 116V164M203.4 110V164M242.9 114V162M282.1 174V193" stroke="#0000ff" stroke-width="1.0" fill="none"/>
<path d="M45.5 197.4v3.5M45.5 6.1v3.5M65.2 197.4v2M65.2 6.1v2M85.0 197.4v3.5M85.0 6.1v3.5M104.7 197.4v2M104.7 6.1v2M124.5 197.4v3.5M124.5 6.1v3.5M144.2 197.4v2M144.2 6.1v2M163.9 197.4v3.5M163.9 6.1v3.5M183.7 197.4v2M183.7 6.1v2M203.4 197.4v3.5M203.4 6.1v3.5M223.2 197.4v2M223.2 6.1v2M242.9 197.4v3.5M242.9 6.1v3.5M262.7 197.4v2M262.7 6.1v2M282.4 197.4v3.5M282.4 6.1v3.5M45.5 197.4h-3.5M282.4 197.4h-3.5M45.5 183.7h-2M282.4 183.7h-2M45.5 170.1h-3.5M282.4 170.1h-3.5M45.5 156.4h-2M282.4 156.4h-2M45.5 142.7h-3.5M282.4 142.7h-3.5M45.5 129.1h-2M282.4 129.1h-2M45.5 115.4h-3.5M282.4 115.4h-3.5M45.5 101.8h-2M282.4 101.8h-2M45.5 88.1h-3.5M282.4 88.1h-3.5M45.5 74.4h-2M282.4 74.4h-2M45.5 60.8h-3.5M282.4 60.8h-3.5M45.5 47.1h-2M282.4 47.1h-2M45.5 33.4h-3.5M282.4 33.4h-3.5M45.5 19.8h-2M282.4 19.8h-2M45.5 6.1h-3.5M282.4 6.1h-3.5" stroke="#333333" stroke-width="1" fill="none"/>
<rect x="45.5" y="6.1" width="236.9" height="191.3" stroke="#333333" stroke-width="1.3" fill="none"/>
<text transform="translate(45.50 213.30) scale(1 1.08)" font-size="12.3" text-anchor="middle"  stroke="#1a1a1a" stroke-width="0.22">0</text>
<text transform="translate(84.98 213.30) scale(1 1.08)" font-size="12.3" text-anchor="middle"  stroke="#1a1a1a" stroke-width="0.22">140</text>
<text transform="translate(124.47 213.30) scale(1 1.08)" font-size="12.3" text-anchor="middle"  stroke="#1a1a1a" stroke-width="0.22">280</text>
<text transform="translate(163.95 213.30) scale(1 1.08)" font-size="12.3" text-anchor="middle"  stroke="#1a1a1a" stroke-width="0.22">420</text>
<text transform="translate(203.43 213.30) scale(1 1.08)" font-size="12.3" text-anchor="middle"  stroke="#1a1a1a" stroke-width="0.22">560</text>
<text transform="translate(242.92 213.30) scale(1 1.08)" font-size="12.3" text-anchor="middle"  stroke="#1a1a1a" stroke-width="0.22">700</text>
<text transform="translate(282.40 213.30) scale(1 1.08)" font-size="12.3" text-anchor="middle"  stroke="#1a1a1a" stroke-width="0.22">840</text>
<text transform="translate(39.30 201.00) scale(1 1.08)" font-size="12.3" text-anchor="end"  stroke="#1a1a1a" stroke-width="0.22">-25</text>
<text transform="translate(39.30 173.67) scale(1 1.08)" font-size="12.3" text-anchor="end"  stroke="#1a1a1a" stroke-width="0.22">0</text>
<text transform="translate(39.30 146.34) scale(1 1.08)" font-size="12.3" text-anchor="end"  stroke="#1a1a1a" stroke-width="0.22">25</text>
<text transform="translate(39.30 119.01) scale(1 1.08)" font-size="12.3" text-anchor="end"  stroke="#1a1a1a" stroke-width="0.22">50</text>
<text transform="translate(39.30 91.69) scale(1 1.08)" font-size="12.3" text-anchor="end"  stroke="#1a1a1a" stroke-width="0.22">75</text>
<text transform="translate(39.30 64.36) scale(1 1.08)" font-size="12.3" text-anchor="end"  stroke="#1a1a1a" stroke-width="0.22">100</text>
<text transform="translate(39.30 37.03) scale(1 1.08)" font-size="12.3" text-anchor="end"  stroke="#1a1a1a" stroke-width="0.22">125</text>
<text transform="translate(39.30 9.70) scale(1 1.08)" font-size="12.3" text-anchor="end"  stroke="#1a1a1a" stroke-width="0.22">150</text>
<text transform="translate(163.90 234.60) scale(1 1.03)" font-size="12.5" text-anchor="middle"  stroke="#1a1a1a" stroke-width="0.22">Time, <tspan font-style="italic">t</tspan> (s)</text>
<text transform="translate(12.0 109.8) rotate(-90) scale(1 0.9)" font-size="12.8" stroke="#1a1a1a" stroke-width="0.22" text-anchor="middle">Photocurrent, <tspan font-style="italic">I</tspan><tspan font-size="7" dy="3">p</tspan><tspan dy="-3"> (pA)</tspan></text>
<text transform="translate(223.50 191.50) scale(1 1.04)" font-size="12.8" text-anchor="middle" fill="#ff0000" stroke="none" stroke-width="0.22">ON</text>
<text transform="translate(263.30 191.50) scale(1 1.04)" font-size="12.8" text-anchor="middle" fill="#ff0000" stroke="none" stroke-width="0.22">OFF</text>
<text transform="translate(46.60 17.20) scale(1 1.06)" font-size="12.3" text-anchor="start"  stroke="#1a1a1a" stroke-width="0.22">(a)</text>
<text transform="translate(47.60 30.20) scale(1 1.1)" font-size="10.2" text-anchor="start"  stroke="#1a1a1a" stroke-width="0.08">PV Characteristics</text>
<text transform="translate(48.20 42.60) scale(1 1.1)" font-size="10.1" text-anchor="start"  stroke="#1a1a1a" stroke-width="0.08">Device B</text>
<text transform="translate(48.2 56.2) scale(1 1.06)" font-size="10.8" stroke="#1a1a1a" stroke-width="0.22"><tspan font-style="italic">V</tspan><tspan font-size="6.6" dy="3.2">bias</tspan><tspan dy="-3.2" dx="1.4" font-size="9.8">= −0.01 V</tspan></text>
<rect x="47.2" y="70.9" width="54.9" height="23.5" fill="#fff" stroke="#a0a0a0" stroke-width="1"/>
<path d="M49.9 77.5H71.2" stroke="#0000ff" stroke-width="1.0"/>
<path d="M57.4 74.2h7l-3.5 6.6z" fill="#0000ff"/>
<path d="M49.9 88.2H71.2" stroke="#000" stroke-width="1.0"/>
<rect x="58" y="85.7" width="5" height="5" fill="#000"/>
<text transform="translate(72.70 80.50) scale(1 1.1)" font-size="10" text-anchor="start"  stroke="#1a1a1a" stroke-width="0.08">40 mW</text>
<text transform="translate(73.00 91.30) scale(1 1.1)" font-size="10" text-anchor="start"  stroke="#1a1a1a" stroke-width="0.08">1 mW</text>
<rect x="125" y="6.1" width="157.3" height="103.1" fill="#fff" stroke="#333" stroke-width="1"/>
<path d="M194.2 13.8V94.2M205.7 13.8V94.2" stroke="#333" stroke-width="1" stroke-dasharray="1.5 1.5"/>
<path d="M146.6 78.9L149.8 85.6L152.9 86.1L156.6 81.3L151.2 80.3L155.5 80.1L157.0 81.5L165.8 86.1L169.2 80.2L164.0 80.8L168.2 80.0L171.3 80.5L178.7 85.3L182.9 82.4L193.2 86.6L197.6 55L199.5 46L201.2 39.1L203.9 34L206.4 27.4L207.9 26.2L210.4 36.2L212.3 28.1L215.2 27.4L217.2 25.1L218.9 27.6L221.4 21.4L223.6 30.2L230.3 26L232.4 28.8L237.1 24.3L240.1 26.8L242.6 23.1L245.1 28.2L249.7 25.5L254.7 28.8L258.1 25.5L260.3 28.2L264 22.6L268.2 28.5" stroke="#0000ff" stroke-width="1.15" fill="none" stroke-linejoin="round"/>
<path d="M146.5 94.2v2.5M146.5 13.8v2.5M158.7 94.2v1.5M158.7 13.8v1.5M170.9 94.2v2.5M170.9 13.8v2.5M183.1 94.2v1.5M183.1 13.8v1.5M195.3 94.2v2.5M195.3 13.8v2.5M207.4 94.2v1.5M207.4 13.8v1.5M219.6 94.2v2.5M219.6 13.8v2.5M231.8 94.2v1.5M231.8 13.8v1.5M244.0 94.2v2.5M244.0 13.8v2.5M256.2 94.2v1.5M256.2 13.8v1.5M268.4 94.2v2.5M268.4 13.8v2.5M146.5 94.2h-2.5M268.4 94.2h-2.5M146.5 87.5h-1.5M268.4 87.5h-1.5M146.5 80.8h-2.5M268.4 80.8h-2.5M146.5 74.1h-1.5M268.4 74.1h-1.5M146.5 67.4h-2.5M268.4 67.4h-2.5M146.5 60.7h-1.5M268.4 60.7h-1.5M146.5 54.0h-2.5M268.4 54.0h-2.5M146.5 47.3h-1.5M268.4 47.3h-1.5M146.5 40.6h-2.5M268.4 40.6h-2.5M146.5 33.9h-1.5M268.4 33.9h-1.5M146.5 27.2h-2.5M268.4 27.2h-2.5M146.5 20.5h-1.5M268.4 20.5h-1.5M146.5 13.8h-2.5M268.4 13.8h-2.5" stroke="#333" stroke-width="1" fill="none"/>
<rect x="146.5" y="13.8" width="121.9" height="80.4" stroke="#333" stroke-width="1" fill="none"/>
<text transform="translate(146.50 104.00) scale(1.25 1)" font-size="7.5" text-anchor="middle"  stroke="#1a1a1a" stroke-width="0.08">50</text>
<text transform="translate(170.88 104.00) scale(1.25 1)" font-size="7.5" text-anchor="middle"  stroke="#1a1a1a" stroke-width="0.08">52</text>
<text transform="translate(195.26 104.00) scale(1.25 1)" font-size="7.5" text-anchor="middle"  stroke="#1a1a1a" stroke-width="0.08">54</text>
<text transform="translate(219.64 104.00) scale(1.25 1)" font-size="7.5" text-anchor="middle"  stroke="#1a1a1a" stroke-width="0.08">56</text>
<text transform="translate(244.02 104.00) scale(1.25 1)" font-size="7.5" text-anchor="middle"  stroke="#1a1a1a" stroke-width="0.08">58</text>
<text transform="translate(268.40 104.00) scale(1.25 1)" font-size="7.5" text-anchor="middle"  stroke="#1a1a1a" stroke-width="0.08">60</text>
<text transform="translate(143.50 96.90) scale(1.1 1)" font-size="8" text-anchor="end"  stroke="#1a1a1a" stroke-width="0.08">-10</text>
<text transform="translate(143.50 83.50) scale(1.1 1)" font-size="8" text-anchor="end"  stroke="#1a1a1a" stroke-width="0.08">0</text>
<text transform="translate(143.50 70.10) scale(1.1 1)" font-size="8" text-anchor="end"  stroke="#1a1a1a" stroke-width="0.08">10</text>
<text transform="translate(143.50 56.70) scale(1.1 1)" font-size="8" text-anchor="end"  stroke="#1a1a1a" stroke-width="0.08">20</text>
<text transform="translate(143.50 43.30) scale(1.1 1)" font-size="8" text-anchor="end"  stroke="#1a1a1a" stroke-width="0.08">30</text>
<text transform="translate(143.50 29.90) scale(1.1 1)" font-size="8" text-anchor="end"  stroke="#1a1a1a" stroke-width="0.08">40</text>
<text transform="translate(143.50 16.50) scale(1.1 1)" font-size="8" text-anchor="end"  stroke="#1a1a1a" stroke-width="0.08">50</text>
<rect x="152.2" y="19.6" width="42" height="13.6" fill="#000"/>
<rect x="149.2" y="16.6" width="42" height="13.6" fill="#fff" stroke="#444" stroke-width="0.8"/>
<text transform="translate(152.50 26.90) scale(1 1.1)" font-size="9.3" text-anchor="start"  stroke="#1a1a1a" stroke-width="0.08">Device B</text>
<text transform="translate(221.90 87.30) scale(1 1.1)" font-size="11" text-anchor="start"  stroke="#1a1a1a" stroke-width="0.22">40 mW</text>
<path d="M124.5 6.5V117" stroke="#0000ff" stroke-width="1.3"/>
<path d="M371.1 6.1V197.4M390.8 6.1V197.4M410.6 6.1V197.4M430.3 6.1V197.4M450.0 6.1V197.4M469.8 6.1V197.4M489.5 6.1V197.4M509.3 6.1V197.4M529.0 6.1V197.4M548.8 6.1V197.4M568.5 6.1V197.4M351.3 183.7H588.3M351.3 170.1H588.3M351.3 156.4H588.3M351.3 142.7H588.3M351.3 129.1H588.3M351.3 115.4H588.3M351.3 101.8H588.3M351.3 88.1H588.3M351.3 74.4H588.3M351.3 60.8H588.3M351.3 47.1H588.3M351.3 33.4H588.3M351.3 19.8H588.3" stroke="#e6e6e6" stroke-width="1" stroke-dasharray="1.5 1.5" fill="none"/>
<path d="M390.8 6.1V197.4M430.3 6.1V197.4M469.8 6.1V197.4M509.3 6.1V197.4M548.8 6.1V197.4M351.3 170.1H588.3M351.3 142.7H588.3M351.3 115.4H588.3M351.3 88.1H588.3M351.3 60.8H588.3M351.3 33.4H588.3" stroke="#cccccc" stroke-width="1" fill="none"/>
<path d="M351.3 177.3H390.8V193.0H430.3V177.3H469.8V193.0H509.3V177.3H548.8V193.0H588.3" stroke="#ff0000" stroke-width="1.6" fill="none"/>
<path d="M351.9 118.4L352.4 118.6L352.9 119.6L353.4 118.6L353.9 118.0L354.4 119.3L354.9 119.2L355.4 118.4L355.9 117.2L356.4 116.8L356.9 115.9L357.4 117.0L357.9 117.6L358.5 118.5L359.0 118.4L359.5 118.0L360.0 117.7L360.5 119.1L361.0 117.8L361.5 118.1L362.0 118.3L362.5 118.7L363.0 118.3L363.5 118.7L364.0 119.0L364.5 118.7L365.0 118.3L365.5 118.2L366.0 117.7L366.5 117.9L367.0 117.9L367.5 118.2L368.0 119.1L368.5 119.6L369.0 118.9L369.5 119.0L370.0 119.0L370.5 119.2L371.1 118.9L371.6 118.9L372.1 118.4L372.6 117.9L373.1 118.6L373.6 119.3L374.1 119.4L374.6 119.2L375.1 119.1L375.6 118.5L376.1 117.4L376.6 118.2L377.1 118.4L377.6 118.1L378.1 117.6L378.6 118.7L379.1 117.5L379.6 118.9L380.1 119.1L380.6 120.2L381.1 119.1L381.6 118.8L382.1 118.3L382.6 118.5L383.1 118.3L383.6 117.9L384.2 118.7L384.7 118.1L385.2 117.9L385.7 118.5L386.2 118.1L386.7 118.0L387.2 118.4L387.7 118.2L388.2 117.5L388.7 117.8L389.2 117.9L389.7 119.1L390.2 118.2L390.2 126.6L389.7 127.3L389.2 127.7L388.7 128.6L388.2 129.5L387.7 128.5L387.2 128.7L386.7 128.3L386.2 127.5L385.7 127.4L385.2 126.7L384.7 127.7L384.2 127.1L383.6 126.7L383.1 126.4L382.6 127.7L382.1 127.0L381.6 126.9L381.1 126.7L380.6 125.7L380.1 126.4L379.6 126.7L379.1 126.6L378.6 127.5L378.1 126.9L377.6 127.3L377.1 127.9L376.6 128.1L376.1 127.8L375.6 127.2L375.1 127.6L374.6 127.3L374.1 127.1L373.6 126.9L373.1 126.5L372.6 127.9L372.1 128.6L371.6 127.8L371.1 126.4L370.5 126.5L370.0 126.5L369.5 127.1L369.0 126.4L368.5 126.8L368.0 127.0L367.5 126.0L367.0 126.7L366.5 127.4L366.0 128.1L365.5 128.5L365.0 127.6L364.5 127.3L364.0 126.9L363.5 128.3L363.0 127.4L362.5 128.8L362.0 128.2L361.5 127.8L361.0 128.5L360.5 128.1L360.0 127.6L359.5 127.2L359.0 127.5L358.5 127.5L357.9 127.9L357.4 127.4L356.9 128.5L356.4 128.5L355.9 128.2L355.4 127.5L354.9 128.6L354.4 127.6L353.9 126.9L353.4 126.6L352.9 126.7L352.4 126.9L351.9 127.7z" fill="#ff0000"/>
<path d="M379.3 117.8a1.2 1.2 0 1 0 2.4 0a1.2 1.2 0 1 0 -2.4 0M361.5 119.3a1.2 1.2 0 1 0 2.4 0a1.2 1.2 0 1 0 -2.4 0M386.9 118.7a1.2 1.2 0 1 0 2.4 0a1.2 1.2 0 1 0 -2.4 0M386.3 118.1a1.2 1.2 0 1 0 2.4 0a1.2 1.2 0 1 0 -2.4 0M379.0 117.8a1.2 1.2 0 1 0 2.4 0a1.2 1.2 0 1 0 -2.4 0M374.8 118.6a1.2 1.2 0 1 0 2.4 0a1.2 1.2 0 1 0 -2.4 0M352.8 118.1a1.2 1.2 0 1 0 2.4 0a1.2 1.2 0 1 0 -2.4 0M367.1 118.5a1.2 1.2 0 1 0 2.4 0a1.2 1.2 0 1 0 -2.4 0M386.2 119.2a1.2 1.2 0 1 0 2.4 0a1.2 1.2 0 1 0 -2.4 0M379.9 119.4a1.2 1.2 0 1 0 2.4 0a1.2 1.2 0 1 0 -2.4 0M377.6 117.9a1.2 1.2 0 1 0 2.4 0a1.2 1.2 0 1 0 -2.4 0M360.7 118.4a1.2 1.2 0 1 0 2.4 0a1.2 1.2 0 1 0 -2.4 0" fill="#ff0000"/>
<path d="M388.1 118.1h1.8v1.8h-1.8zM371.8 118.7h1.8v1.8h-1.8zM353.3 118.5h1.8v1.8h-1.8zM366.8 118.8h1.8v1.8h-1.8zM362.9 118.9h1.8v1.8h-1.8zM378.1 118.0h1.8v1.8h-1.8zM360.1 118.7h1.8v1.8h-1.8z" fill="#000"/>
<path d="M370.5 127.4a1.1 1.1 0 1 0 2.2 0a1.1 1.1 0 1 0 -2.2 0M386.6 127.6a1.1 1.1 0 1 0 2.2 0a1.1 1.1 0 1 0 -2.2 0M362.3 126.3a1.1 1.1 0 1 0 2.2 0a1.1 1.1 0 1 0 -2.2 0M356.2 127.1a1.1 1.1 0 1 0 2.2 0a1.1 1.1 0 1 0 -2.2 0M363.6 126.5a1.1 1.1 0 1 0 2.2 0a1.1 1.1 0 1 0 -2.2 0M371.8 126.6a1.1 1.1 0 1 0 2.2 0a1.1 1.1 0 1 0 -2.2 0" fill="#ff0000"/>
<path d="M351.9 108.3L352.4 108.7L352.9 108.1L353.4 107.8L353.9 107.9L354.4 107.2L354.9 107.8L355.4 108.1L355.9 107.9L356.4 108.1L356.9 108.4L357.4 108.3L357.9 108.4L358.5 108.8L359.0 108.3L359.5 108.3L360.0 107.9L360.5 108.4L361.0 108.1L361.5 108.2L362.0 108.2L362.5 108.1L363.0 108.7L363.5 108.4L364.0 108.8L364.5 108.8L365.0 109.0L365.5 108.5L366.0 108.7L366.5 108.7L367.0 108.2L367.5 108.2L368.0 108.1L368.5 108.0L369.0 108.5L369.5 108.0L370.0 107.4L370.5 106.9L371.1 107.2L371.6 107.3L372.1 107.6L372.6 108.0L373.1 108.7L373.6 108.5L374.1 108.5L374.6 108.0L375.1 108.2L375.6 108.7L376.1 108.9L376.6 107.8L377.1 108.2L377.6 108.7L378.1 108.8L378.6 107.9L379.1 107.8L379.6 108.1L380.1 108.2L380.6 107.8L381.1 107.6L381.6 108.1L382.1 107.5L382.6 108.3L383.1 108.2L383.6 108.2L384.2 107.6L384.7 107.5L385.2 108.0L385.7 107.4L386.2 108.5L386.7 107.7L387.2 107.4L387.7 107.6L388.2 108.0L388.7 108.3L389.2 108.0L389.7 107.9L390.2 107.9L390.2 115.7L389.7 115.6L389.2 115.4L388.7 114.7L388.2 114.4L387.7 114.1L387.2 114.7L386.7 114.8L386.2 115.4L385.7 115.4L385.2 115.9L384.7 115.5L384.2 114.8L383.6 115.4L383.1 115.0L382.6 114.8L382.1 114.4L381.6 114.4L381.1 114.9L380.6 114.5L380.1 115.2L379.6 114.7L379.1 115.4L378.6 115.1L378.1 114.3L377.6 114.8L377.1 115.2L376.6 115.3L376.1 115.2L375.6 114.0L375.1 114.4L374.6 114.7L374.1 115.0L373.6 115.5L373.1 115.0L372.6 114.1L372.1 114.0L371.6 114.5L371.1 114.7L370.5 115.0L370.0 114.9L369.5 115.3L369.0 114.5L368.5 116.1L368.0 115.4L367.5 116.1L367.0 115.2L366.5 114.6L366.0 114.9L365.5 114.7L365.0 114.5L364.5 114.5L364.0 115.1L363.5 114.4L363.0 114.4L362.5 114.4L362.0 113.8L361.5 114.5L361.0 115.0L360.5 114.4L360.0 114.6L359.5 114.5L359.0 115.2L358.5 114.3L357.9 114.2L357.4 114.6L356.9 114.3L356.4 115.3L355.9 114.7L355.4 114.8L354.9 114.7L354.4 114.5L353.9 114.8L353.4 114.7L352.9 114.4L352.4 113.4L351.9 114.5z" fill="#0000ff"/>
<path d="M372.8 110.4h3.2l-1.6 -2.7zM365.9 110.4h3.2l-1.6 -2.7zM367.1 109.1h3.2l-1.6 -2.7zM371.4 109.3h3.2l-1.6 -2.7zM379.3 110.3h3.2l-1.6 -2.7zM388.2 109.3h3.2l-1.6 -2.7zM354.2 109.1h3.2l-1.6 -2.7zM365.3 110.2h3.2l-1.6 -2.7zM387.1 109.6h3.2l-1.6 -2.7zM380.0 110.3h3.2l-1.6 -2.7zM380.0 110.4h3.2l-1.6 -2.7zM359.4 109.9h3.2l-1.6 -2.7zM350.9 109.5h3.2l-1.6 -2.7zM358.5 110.0h3.2l-1.6 -2.7zM377.4 109.8h3.2l-1.6 -2.7zM384.3 109.5h3.2l-1.6 -2.7zM383.7 109.6h3.2l-1.6 -2.7zM385.4 109.1h3.2l-1.6 -2.7zM356.7 109.3h3.2l-1.6 -2.7zM363.4 109.2h3.2l-1.6 -2.7zM376.4 109.1h3.2l-1.6 -2.7zM355.0 109.9h3.2l-1.6 -2.7z" fill="#0000ff"/>
<path d="M380.1 108.0V102.6M379.5 108.0V104.9M375.0 108.0V104.8" stroke="#0000ff" stroke-width="0.9" fill="none"/>
<path d="M378.5 104.1h3.2l-1.6 -2.7zM377.9 106.3h3.2l-1.6 -2.7zM373.4 106.2h3.2l-1.6 -2.7z" fill="#0000ff"/>
<path d="M372.9 114.0V116.4M356.2 114.0V116.1M377.8 114.0V117.5" stroke="#0000ff" stroke-width="0.9" fill="none"/>
<path d="M371.4 117.7h3.0l-1.5 -2.5zM354.7 117.5h3.0l-1.5 -2.5zM376.3 118.8h3.0l-1.5 -2.5z" fill="#0000ff"/>
<path d="M358.4 115.7h1.8v1.8h-1.8zM383.1 115.4h1.8v1.8h-1.8zM355.3 116.6h1.8v1.8h-1.8z" fill="#000"/>
<path d="M430.9 119.2L431.4 119.6L431.9 119.4L432.4 119.7L432.9 119.0L433.4 119.6L433.9 118.9L434.4 118.9L434.9 119.2L435.4 118.4L435.9 118.0L436.4 117.1L436.9 117.7L437.5 118.0L438.0 118.0L438.5 118.4L439.0 117.2L439.5 117.7L440.0 118.0L440.5 118.0L441.0 118.6L441.5 119.5L442.0 118.8L442.5 118.1L443.0 117.9L443.5 118.1L444.0 118.6L444.5 118.0L445.0 118.7L445.5 118.0L446.0 118.6L446.5 118.8L447.0 118.9L447.5 119.9L448.0 119.2L448.5 118.8L449.0 118.9L449.5 119.2L450.0 118.1L450.6 118.4L451.1 118.0L451.6 118.5L452.1 119.2L452.6 118.9L453.1 118.7L453.6 118.7L454.1 116.9L454.6 117.9L455.1 118.4L455.6 118.5L456.1 118.2L456.6 117.9L457.1 118.0L457.6 118.9L458.1 118.6L458.6 119.3L459.1 117.5L459.6 117.6L460.1 118.1L460.6 118.2L461.1 117.3L461.6 117.4L462.1 118.5L462.6 117.7L463.2 117.4L463.7 117.2L464.2 117.3L464.7 118.1L465.2 118.6L465.7 117.3L466.2 118.6L466.7 118.2L467.2 117.9L467.7 119.1L468.2 118.8L468.7 117.9L469.2 117.7L469.2 128.2L468.7 128.3L468.2 127.5L467.7 127.3L467.2 126.2L466.7 126.6L466.2 126.6L465.7 127.2L465.2 127.9L464.7 126.7L464.2 127.2L463.7 127.6L463.2 127.2L462.6 128.4L462.1 128.1L461.6 127.3L461.1 126.8L460.6 126.1L460.1 125.7L459.6 127.0L459.1 126.0L458.6 125.5L458.1 124.9L457.6 126.3L457.1 126.0L456.6 125.9L456.1 125.6L455.6 126.0L455.1 127.1L454.6 126.6L454.1 126.8L453.6 127.4L453.1 127.8L452.6 127.5L452.1 127.3L451.6 127.2L451.1 127.3L450.6 128.0L450.0 127.8L449.5 127.7L449.0 126.9L448.5 125.7L448.0 126.9L447.5 125.2L447.0 125.2L446.5 125.5L446.0 127.5L445.5 127.5L445.0 127.1L444.5 127.8L444.0 126.9L443.5 127.2L443.0 126.3L442.5 127.2L442.0 127.6L441.5 126.9L441.0 127.2L440.5 126.9L440.0 126.5L439.5 126.6L439.0 127.2L438.5 126.9L438.0 128.1L437.5 128.7L436.9 127.4L436.4 127.2L435.9 127.6L435.4 127.2L434.9 127.2L434.4 127.2L433.9 128.4L433.4 126.3L432.9 127.3L432.4 127.1L431.9 126.2L431.4 126.0L430.9 126.5z" fill="#ff0000"/>
<path d="M442.5 118.5a1.2 1.2 0 1 0 2.4 0a1.2 1.2 0 1 0 -2.4 0M452.6 119.0a1.2 1.2 0 1 0 2.4 0a1.2 1.2 0 1 0 -2.4 0M447.4 119.5a1.2 1.2 0 1 0 2.4 0a1.2 1.2 0 1 0 -2.4 0M465.1 118.4a1.2 1.2 0 1 0 2.4 0a1.2 1.2 0 1 0 -2.4 0M467.5 119.4a1.2 1.2 0 1 0 2.4 0a1.2 1.2 0 1 0 -2.4 0M453.2 118.1a1.2 1.2 0 1 0 2.4 0a1.2 1.2 0 1 0 -2.4 0M442.3 119.3a1.2 1.2 0 1 0 2.4 0a1.2 1.2 0 1 0 -2.4 0M435.7 119.2a1.2 1.2 0 1 0 2.4 0a1.2 1.2 0 1 0 -2.4 0M459.1 119.3a1.2 1.2 0 1 0 2.4 0a1.2 1.2 0 1 0 -2.4 0M460.9 118.7a1.2 1.2 0 1 0 2.4 0a1.2 1.2 0 1 0 -2.4 0M450.3 118.3a1.2 1.2 0 1 0 2.4 0a1.2 1.2 0 1 0 -2.4 0M451.0 118.2a1.2 1.2 0 1 0 2.4 0a1.2 1.2 0 1 0 -2.4 0" fill="#ff0000"/>
<path d="M453.0 118.6h1.8v1.8h-1.8zM458.4 118.7h1.8v1.8h-1.8zM457.2 117.9h1.8v1.8h-1.8zM459.7 118.6h1.8v1.8h-1.8zM459.6 117.5h1.8v1.8h-1.8zM447.4 118.7h1.8v1.8h-1.8zM450.0 117.6h1.8v1.8h-1.8z" fill="#000"/>
<path d="M434.9 128.5a1.1 1.1 0 1 0 2.2 0a1.1 1.1 0 1 0 -2.2 0M448.0 126.9a1.1 1.1 0 1 0 2.2 0a1.1 1.1 0 1 0 -2.2 0M459.5 127.6a1.1 1.1 0 1 0 2.2 0a1.1 1.1 0 1 0 -2.2 0M467.7 127.9a1.1 1.1 0 1 0 2.2 0a1.1 1.1 0 1 0 -2.2 0M458.8 128.3a1.1 1.1 0 1 0 2.2 0a1.1 1.1 0 1 0 -2.2 0M430.9 128.2a1.1 1.1 0 1 0 2.2 0a1.1 1.1 0 1 0 -2.2 0" fill="#ff0000"/>
<path d="M430.9 108.4L431.4 108.4L431.9 108.0L432.4 107.9L432.9 108.3L433.4 108.0L433.9 108.2L434.4 108.3L434.9 108.1L435.4 107.2L435.9 107.6L436.4 107.8L436.9 107.9L437.5 107.7L438.0 108.3L438.5 108.1L439.0 107.8L439.5 107.6L440.0 107.9L440.5 107.5L441.0 107.3L441.5 108.4L442.0 108.7L442.5 108.8L443.0 109.0L443.5 108.9L444.0 107.9L444.5 108.4L445.0 108.7L445.5 108.6L446.0 107.6L446.5 108.2L447.0 108.7L447.5 108.2L448.0 108.2L448.5 108.4L449.0 108.2L449.5 108.6L450.0 108.4L450.6 108.5L451.1 108.3L451.6 107.6L452.1 107.4L452.6 108.9L453.1 108.6L453.6 108.9L454.1 109.0L454.6 109.2L455.1 109.0L455.6 108.3L456.1 108.2L456.6 107.4L457.1 107.6L457.6 108.1L458.1 107.2L458.6 107.6L459.1 108.1L459.6 108.6L460.1 108.0L460.6 107.7L461.1 107.1L461.6 107.1L462.1 107.7L462.6 108.6L463.2 107.9L463.7 108.5L464.2 108.5L464.7 108.1L465.2 108.9L465.7 107.6L466.2 107.7L466.7 107.9L467.2 108.8L467.7 109.2L468.2 109.6L468.7 109.0L469.2 109.0L469.2 115.1L468.7 115.0L468.2 115.0L467.7 114.7L467.2 115.0L466.7 114.0L466.2 113.6L465.7 113.9L465.2 114.8L464.7 114.9L464.2 114.8L463.7 114.6L463.2 114.8L462.6 114.3L462.1 114.6L461.6 113.5L461.1 114.5L460.6 113.9L460.1 113.9L459.6 114.2L459.1 112.9L458.6 113.8L458.1 114.0L457.6 113.7L457.1 114.0L456.6 114.6L456.1 114.9L455.6 114.9L455.1 115.1L454.6 114.6L454.1 115.4L453.6 115.6L453.1 115.1L452.6 115.0L452.1 115.2L451.6 115.0L451.1 115.2L450.6 116.3L450.0 116.3L449.5 115.2L449.0 115.0L448.5 115.4L448.0 115.2L447.5 114.7L447.0 115.2L446.5 115.4L446.0 116.2L445.5 116.0L445.0 116.0L444.5 115.7L444.0 115.8L443.5 115.8L443.0 115.8L442.5 115.9L442.0 115.9L441.5 115.0L441.0 115.9L440.5 116.3L440.0 114.7L439.5 114.5L439.0 114.6L438.5 114.5L438.0 114.9L437.5 115.2L436.9 115.6L436.4 114.7L435.9 114.5L435.4 114.4L434.9 113.9L434.4 114.9L433.9 115.4L433.4 114.2L432.9 114.8L432.4 115.0L431.9 115.4L431.4 115.4L430.9 115.5z" fill="#0000ff"/>
<path d="M461.6 109.2h3.2l-1.6 -2.7zM464.1 110.5h3.2l-1.6 -2.7zM455.9 110.0h3.2l-1.6 -2.7zM454.1 109.6h3.2l-1.6 -2.7zM441.4 108.9h3.2l-1.6 -2.7zM429.3 109.3h3.2l-1.6 -2.7zM462.0 109.7h3.2l-1.6 -2.7zM452.0 108.8h3.2l-1.6 -2.7zM438.3 109.5h3.2l-1.6 -2.7zM457.8 109.9h3.2l-1.6 -2.7zM456.6 109.9h3.2l-1.6 -2.7zM449.5 109.5h3.2l-1.6 -2.7zM455.2 110.0h3.2l-1.6 -2.7zM453.4 109.6h3.2l-1.6 -2.7zM437.9 109.5h3.2l-1.6 -2.7zM439.4 109.0h3.2l-1.6 -2.7zM447.4 109.3h3.2l-1.6 -2.7zM449.3 109.7h3.2l-1.6 -2.7zM437.8 110.3h3.2l-1.6 -2.7zM464.8 109.6h3.2l-1.6 -2.7zM449.4 109.6h3.2l-1.6 -2.7zM460.5 110.1h3.2l-1.6 -2.7z" fill="#0000ff"/>
<path d="M437.5 108.0V102.9M448.5 108.0V103.4M462.6 108.0V102.8" stroke="#0000ff" stroke-width="0.9" fill="none"/>
<path d="M435.9 104.4h3.2l-1.6 -2.7zM446.9 104.8h3.2l-1.6 -2.7zM461.0 104.2h3.2l-1.6 -2.7z" fill="#0000ff"/>
<path d="M464.1 114.0V117.9M445.5 114.0V116.3M462.2 114.0V117.8" stroke="#0000ff" stroke-width="0.9" fill="none"/>
<path d="M462.6 119.3h3.0l-1.5 -2.5zM444.0 117.7h3.0l-1.5 -2.5zM460.7 119.1h3.0l-1.5 -2.5z" fill="#0000ff"/>
<path d="M435.9 116.1h1.8v1.8h-1.8zM433.9 115.9h1.8v1.8h-1.8zM460.8 115.6h1.8v1.8h-1.8z" fill="#000"/>
<path d="M509.9 118.2L510.4 118.3L510.9 116.7L511.4 118.6L511.9 118.3L512.4 117.7L512.9 116.9L513.4 117.7L513.9 118.0L514.4 117.8L514.9 117.8L515.4 117.5L515.9 117.4L516.5 117.8L517.0 117.6L517.5 118.3L518.0 118.3L518.5 118.4L519.0 118.6L519.5 119.3L520.0 119.3L520.5 119.1L521.0 118.7L521.5 118.1L522.0 118.0L522.5 118.6L523.0 118.6L523.5 118.3L524.0 117.6L524.5 117.0L525.0 117.8L525.5 118.6L526.0 118.7L526.5 117.8L527.0 117.9L527.5 118.2L528.0 117.8L528.5 118.2L529.0 118.2L529.6 117.8L530.1 117.3L530.6 118.2L531.1 118.5L531.6 117.9L532.1 117.5L532.6 118.4L533.1 118.7L533.6 118.4L534.1 119.3L534.6 118.8L535.1 118.0L535.6 118.8L536.1 118.5L536.6 118.7L537.1 118.6L537.6 117.9L538.1 117.4L538.6 117.7L539.1 118.8L539.6 118.1L540.1 119.0L540.6 118.9L541.1 118.0L541.6 118.3L542.2 118.7L542.7 118.1L543.2 116.9L543.7 117.7L544.2 117.4L544.7 118.0L545.2 117.1L545.7 117.5L546.2 117.4L546.7 116.9L547.2 117.4L547.7 117.9L548.2 117.8L548.2 126.7L547.7 126.8L547.2 127.1L546.7 127.3L546.2 127.1L545.7 127.3L545.2 127.7L544.7 127.6L544.2 126.6L543.7 125.5L543.2 126.6L542.7 125.4L542.2 126.9L541.6 128.2L541.1 128.4L540.6 127.4L540.1 128.0L539.6 126.5L539.1 126.4L538.6 126.3L538.1 126.7L537.6 126.7L537.1 127.6L536.6 127.6L536.1 126.9L535.6 127.5L535.1 126.5L534.6 126.8L534.1 126.3L533.6 126.3L533.1 126.6L532.6 126.0L532.1 126.6L531.6 126.5L531.1 127.3L530.6 127.0L530.1 126.8L529.6 127.3L529.0 126.8L528.5 128.1L528.0 127.4L527.5 127.3L527.0 126.6L526.5 126.3L526.0 127.0L525.5 128.1L525.0 127.8L524.5 127.5L524.0 128.1L523.5 127.9L523.0 128.6L522.5 129.5L522.0 127.6L521.5 126.7L521.0 127.2L520.5 127.8L520.0 127.9L519.5 128.5L519.0 127.3L518.5 126.7L518.0 127.8L517.5 127.7L517.0 126.4L516.5 127.3L515.9 127.8L515.4 127.7L514.9 126.4L514.4 127.5L513.9 127.8L513.4 128.0L512.9 128.3L512.4 128.2L511.9 127.1L511.4 126.5L510.9 125.6L510.4 126.7L509.9 126.2z" fill="#ff0000"/>
<path d="M544.0 118.4a1.2 1.2 0 1 0 2.4 0a1.2 1.2 0 1 0 -2.4 0M539.4 118.5a1.2 1.2 0 1 0 2.4 0a1.2 1.2 0 1 0 -2.4 0M534.5 118.2a1.2 1.2 0 1 0 2.4 0a1.2 1.2 0 1 0 -2.4 0M520.0 119.1a1.2 1.2 0 1 0 2.4 0a1.2 1.2 0 1 0 -2.4 0M540.8 119.2a1.2 1.2 0 1 0 2.4 0a1.2 1.2 0 1 0 -2.4 0M543.9 119.1a1.2 1.2 0 1 0 2.4 0a1.2 1.2 0 1 0 -2.4 0M512.6 119.3a1.2 1.2 0 1 0 2.4 0a1.2 1.2 0 1 0 -2.4 0M538.7 117.6a1.2 1.2 0 1 0 2.4 0a1.2 1.2 0 1 0 -2.4 0M524.6 118.2a1.2 1.2 0 1 0 2.4 0a1.2 1.2 0 1 0 -2.4 0M518.6 117.7a1.2 1.2 0 1 0 2.4 0a1.2 1.2 0 1 0 -2.4 0M535.0 119.2a1.2 1.2 0 1 0 2.4 0a1.2 1.2 0 1 0 -2.4 0M510.9 118.1a1.2 1.2 0 1 0 2.4 0a1.2 1.2 0 1 0 -2.4 0" fill="#ff0000"/>
<path d="M510.6 117.8h1.8v1.8h-1.8zM520.2 118.7h1.8v1.8h-1.8zM531.3 118.6h1.8v1.8h-1.8zM530.5 118.9h1.8v1.8h-1.8zM543.9 118.6h1.8v1.8h-1.8zM541.2 118.9h1.8v1.8h-1.8zM539.6 117.5h1.8v1.8h-1.8z" fill="#000"/>
<path d="M523.8 128.4a1.1 1.1 0 1 0 2.2 0a1.1 1.1 0 1 0 -2.2 0M523.4 126.9a1.1 1.1 0 1 0 2.2 0a1.1 1.1 0 1 0 -2.2 0M517.4 127.1a1.1 1.1 0 1 0 2.2 0a1.1 1.1 0 1 0 -2.2 0M512.4 127.3a1.1 1.1 0 1 0 2.2 0a1.1 1.1 0 1 0 -2.2 0M536.7 127.4a1.1 1.1 0 1 0 2.2 0a1.1 1.1 0 1 0 -2.2 0M534.8 128.2a1.1 1.1 0 1 0 2.2 0a1.1 1.1 0 1 0 -2.2 0" fill="#ff0000"/>
<path d="M509.9 108.1L510.4 107.9L510.9 109.1L511.4 108.0L511.9 108.5L512.4 108.1L512.9 108.0L513.4 108.3L513.9 108.2L514.4 107.7L514.9 108.0L515.4 107.9L515.9 107.1L516.5 107.6L517.0 107.3L517.5 107.3L518.0 107.8L518.5 108.0L519.0 107.9L519.5 108.8L520.0 108.6L520.5 108.1L521.0 108.2L521.5 108.1L522.0 107.2L522.5 106.9L523.0 106.8L523.5 108.1L524.0 108.0L524.5 107.9L525.0 107.7L525.5 108.2L526.0 108.1L526.5 108.7L527.0 108.7L527.5 109.1L528.0 108.6L528.5 108.5L529.0 108.1L529.6 108.0L530.1 107.3L530.6 107.4L531.1 107.3L531.6 107.3L532.1 108.1L532.6 108.1L533.1 108.6L533.6 108.7L534.1 108.8L534.6 108.8L535.1 108.3L535.6 108.5L536.1 108.2L536.6 107.9L537.1 108.4L537.6 109.1L538.1 108.3L538.6 108.8L539.1 108.8L539.6 108.2L540.1 108.2L540.6 108.3L541.1 108.3L541.6 108.0L542.2 107.5L542.7 107.7L543.2 108.2L543.7 108.4L544.2 108.5L544.7 108.7L545.2 108.1L545.7 108.0L546.2 108.1L546.7 108.5L547.2 108.3L547.7 108.4L548.2 108.3L548.2 114.2L547.7 115.1L547.2 114.5L546.7 115.0L546.2 114.1L545.7 115.3L545.2 114.7L544.7 115.0L544.2 115.2L543.7 115.8L543.2 115.2L542.7 115.1L542.2 115.5L541.6 115.3L541.1 114.5L540.6 115.5L540.1 115.2L539.6 114.4L539.1 113.8L538.6 114.2L538.1 113.9L537.6 115.0L537.1 114.8L536.6 114.7L536.1 115.7L535.6 116.3L535.1 115.8L534.6 114.4L534.1 115.2L533.6 115.0L533.1 114.9L532.6 114.6L532.1 114.8L531.6 115.2L531.1 115.6L530.6 114.8L530.1 114.8L529.6 114.6L529.0 114.8L528.5 115.2L528.0 114.6L527.5 114.5L527.0 114.2L526.5 114.7L526.0 114.2L525.5 114.5L525.0 114.0L524.5 114.4L524.0 115.0L523.5 115.2L523.0 115.3L522.5 114.5L522.0 114.2L521.5 114.1L521.0 113.7L520.5 113.8L520.0 114.4L519.5 114.4L519.0 114.7L518.5 114.9L518.0 114.7L517.5 114.8L517.0 115.4L516.5 115.7L515.9 115.5L515.4 115.4L514.9 115.4L514.4 114.4L513.9 114.0L513.4 114.0L512.9 114.6L512.4 114.4L511.9 115.5L511.4 115.8L510.9 114.5L510.4 114.4L509.9 115.8z" fill="#0000ff"/>
<path d="M530.9 109.8h3.2l-1.6 -2.7zM539.9 109.2h3.2l-1.6 -2.7zM541.7 110.0h3.2l-1.6 -2.7zM545.1 109.6h3.2l-1.6 -2.7zM544.5 110.3h3.2l-1.6 -2.7zM545.4 109.2h3.2l-1.6 -2.7zM518.0 109.1h3.2l-1.6 -2.7zM517.2 110.2h3.2l-1.6 -2.7zM525.8 110.1h3.2l-1.6 -2.7zM527.2 109.0h3.2l-1.6 -2.7zM534.5 109.3h3.2l-1.6 -2.7zM523.3 109.2h3.2l-1.6 -2.7zM538.7 109.4h3.2l-1.6 -2.7zM544.4 109.1h3.2l-1.6 -2.7zM523.9 110.4h3.2l-1.6 -2.7zM533.3 109.1h3.2l-1.6 -2.7zM521.3 109.5h3.2l-1.6 -2.7zM540.3 109.2h3.2l-1.6 -2.7zM508.5 109.7h3.2l-1.6 -2.7zM508.9 110.4h3.2l-1.6 -2.7zM539.4 109.8h3.2l-1.6 -2.7zM531.5 109.8h3.2l-1.6 -2.7z" fill="#0000ff"/>
<path d="M522.7 108.0V104.5M523.4 108.0V102.9M533.6 108.0V104.3" stroke="#0000ff" stroke-width="0.9" fill="none"/>
<path d="M521.1 105.9h3.2l-1.6 -2.7zM521.8 104.3h3.2l-1.6 -2.7zM532.0 105.7h3.2l-1.6 -2.7z" fill="#0000ff"/>
<path d="M513.3 114.0V117.5M536.8 114.0V117.1M535.2 114.0V116.4" stroke="#0000ff" stroke-width="0.9" fill="none"/>
<path d="M511.8 118.8h3.0l-1.5 -2.5zM535.3 118.5h3.0l-1.5 -2.5zM533.7 117.7h3.0l-1.5 -2.5z" fill="#0000ff"/>
<path d="M513.6 115.2h1.8v1.8h-1.8zM510.6 115.0h1.8v1.8h-1.8zM516.1 116.1h1.8v1.8h-1.8z" fill="#000"/>
<path d="M391.8 167.9L392.3 167.6L392.8 167.7L393.3 168.5L393.8 167.4L394.3 166.9L394.8 166.8L395.3 167.4L395.8 167.9L396.3 167.6L396.9 167.9L397.4 167.7L397.9 167.8L398.4 167.5L398.9 167.5L399.4 167.5L399.9 168.0L400.4 168.7L400.9 167.5L401.4 167.8L401.9 167.7L402.4 168.0L402.9 168.3L403.4 168.3L403.9 168.3L404.4 167.7L404.9 167.0L405.4 167.9L405.9 168.2L406.5 167.6L407.0 168.1L407.5 168.2L408.0 167.0L408.5 167.6L409.0 167.2L409.5 167.9L410.0 167.5L410.5 167.3L411.0 166.8L411.5 167.1L412.0 167.7L412.5 167.4L413.0 166.8L413.5 168.0L414.0 168.6L414.5 168.5L415.0 168.0L415.6 167.4L416.1 166.9L416.6 167.4L417.1 168.0L417.6 167.5L418.1 167.6L418.6 167.5L419.1 167.5L419.6 167.8L420.1 168.6L420.6 168.0L421.1 168.2L421.6 168.4L422.1 168.1L422.6 167.9L423.1 167.3L423.6 167.9L424.1 167.6L424.6 167.4L425.2 167.6L425.7 167.3L426.2 167.1L426.7 167.3L427.2 168.0L427.7 167.9L428.2 168.0L428.7 167.4L429.2 166.8L429.7 167.9L429.7 172.1L429.2 172.5L428.7 171.4L428.2 171.6L427.7 170.9L427.2 171.0L426.7 170.9L426.2 171.7L425.7 172.7L425.2 172.5L424.6 172.1L424.1 171.2L423.6 171.8L423.1 172.8L422.6 173.1L422.1 173.2L421.6 172.8L421.1 172.5L420.6 172.6L420.1 171.3L419.6 171.8L419.1 172.4L418.6 172.0L418.1 172.0L417.6 171.8L417.1 171.9L416.6 172.0L416.1 172.0L415.6 172.5L415.0 171.1L414.5 171.6L414.0 171.8L413.5 171.4L413.0 171.2L412.5 171.7L412.0 172.2L411.5 172.2L411.0 171.6L410.5 171.4L410.0 171.9L409.5 172.5L409.0 172.2L408.5 173.6L408.0 172.8L407.5 172.5L407.0 172.9L406.5 172.6L405.9 172.3L405.4 172.9L404.9 172.9L404.4 172.8L403.9 172.3L403.4 172.6L402.9 173.0L402.4 173.0L401.9 172.8L401.4 172.9L400.9 173.8L400.4 172.7L399.9 172.2L399.4 172.3L398.9 172.1L398.4 172.0L397.9 172.3L397.4 172.4L396.9 172.8L396.3 172.7L395.8 172.3L395.3 171.6L394.8 171.9L394.3 171.4L393.8 171.4L393.3 172.3L392.8 171.7L392.3 171.4L391.8 172.1z" fill="#ff0000"/>
<path d="M404.4 172.2h2.0v2.0h-2.0zM421.5 172.3h2.0v2.0h-2.0zM398.7 171.3h2.0v2.0h-2.0zM411.4 172.0h2.0v2.0h-2.0zM416.5 171.2h2.0v2.0h-2.0zM396.7 172.3h2.0v2.0h-2.0zM394.2 172.2h2.0v2.0h-2.0zM410.3 171.3h2.0v2.0h-2.0zM416.4 171.8h2.0v2.0h-2.0z" fill="#000"/>
<path d="M391.1 154.3L391.6 157.9L392.1 159.8L392.6 162.2L393.1 163.1L393.6 162.7L394.1 163.8L394.6 164.6L395.1 164.6L395.6 164.1L396.1 165.1L396.6 164.4L397.1 164.5L397.6 163.8L398.1 163.6L398.6 163.3L399.1 164.4L399.6 165.1L400.1 164.8L400.6 164.2L401.1 164.4L401.6 164.7L402.1 164.1L402.6 163.9L403.1 164.2L403.6 164.7L404.1 164.8L404.6 165.0L405.1 164.4L405.6 163.5L406.1 164.1L406.6 164.0L407.1 164.3L407.6 164.3L408.1 164.7L408.6 164.4L409.1 165.2L409.6 165.1L410.1 165.2L410.7 165.3L411.2 165.6L411.7 165.4L412.2 164.4L412.7 164.3L413.2 165.3L413.7 165.3L414.2 165.4L414.7 165.3L415.2 164.8L415.7 164.5L416.2 164.4L416.7 165.0L417.2 165.1L417.7 165.8L418.2 165.6L418.7 166.1L419.2 165.8L419.7 164.9L420.2 165.6L420.7 165.4L421.2 165.7L421.7 165.4L422.2 165.0L422.7 165.0L423.2 164.4L423.7 164.1L424.2 164.0L424.7 164.1L425.2 163.8L425.7 164.1L426.2 164.5L426.7 165.5L427.2 166.1L427.7 165.5L428.2 165.6L428.7 165.2L429.2 165.2L429.7 165.0L429.7 169.7L429.2 170.9L428.7 170.5L428.2 170.6L427.7 171.0L427.2 170.2L426.7 169.9L426.2 169.6L425.7 169.2L425.2 170.2L424.7 169.5L424.2 170.1L423.7 170.1L423.2 170.1L422.7 169.0L422.2 170.5L421.7 171.3L421.2 171.7L420.7 170.5L420.2 169.9L419.7 169.6L419.2 169.6L418.7 170.3L418.2 170.1L417.7 169.7L417.2 169.0L416.7 170.1L416.2 170.9L415.7 169.9L415.2 169.2L414.7 171.5L414.2 170.9L413.7 170.4L413.2 170.3L412.7 170.0L412.2 170.9L411.7 170.9L411.2 169.7L410.7 170.8L410.1 171.0L409.6 170.9L409.1 171.4L408.6 171.3L408.1 170.8L407.6 170.5L407.1 169.8L406.6 169.6L406.1 170.6L405.6 171.0L405.1 171.4L404.6 170.3L404.1 170.0L403.6 169.3L403.1 170.3L402.6 170.6L402.1 171.6L401.6 170.4L401.1 170.9L400.6 169.7L400.1 169.9L399.6 171.1L399.1 171.0L398.6 171.3L398.1 170.5L397.6 170.2L397.1 170.2L396.6 171.3L396.1 170.5L395.6 170.2L395.1 169.7L394.6 170.1L394.1 169.5L393.6 169.3L393.1 169.8L392.6 169.9L392.1 169.2L391.6 170.1L391.1 169.9z" fill="#0000ff"/>
<path d="M408.8 165.8h3.2l-1.6 -2.7zM424.1 164.6h3.2l-1.6 -2.7zM394.7 165.1h3.2l-1.6 -2.7zM414.6 163.7h3.2l-1.6 -2.7zM409.6 164.3h3.2l-1.6 -2.7zM399.6 165.3h3.2l-1.6 -2.7zM424.7 165.0h3.2l-1.6 -2.7zM395.9 164.5h3.2l-1.6 -2.7zM396.7 165.4h3.2l-1.6 -2.7zM408.6 164.5h3.2l-1.6 -2.7zM415.0 164.2h3.2l-1.6 -2.7zM408.0 165.8h3.2l-1.6 -2.7zM418.2 165.8h3.2l-1.6 -2.7zM409.1 164.9h3.2l-1.6 -2.7zM416.4 164.2h3.2l-1.6 -2.7zM400.8 164.3h3.2l-1.6 -2.7z" fill="#0000ff"/>
<path d="M417.6 165.3a1.0 1.0 0 1 0 2.0 0a1.0 1.0 0 1 0 -2.0 0M397.9 163.8a1.0 1.0 0 1 0 2.0 0a1.0 1.0 0 1 0 -2.0 0M414.3 166.8a1.0 1.0 0 1 0 2.0 0a1.0 1.0 0 1 0 -2.0 0M401.4 163.5a1.0 1.0 0 1 0 2.0 0a1.0 1.0 0 1 0 -2.0 0M401.0 165.6a1.0 1.0 0 1 0 2.0 0a1.0 1.0 0 1 0 -2.0 0" fill="#ff0000"/>
<path d="M390.1 148.3h3.0l-1.5 -2.5zM390.6 152.3h3.0l-1.5 -2.5zM391.1 156.3h3.0l-1.5 -2.5zM391.5 159.8h3.0l-1.5 -2.5zM391.8 162.8h3.0l-1.5 -2.5z" fill="#0000ff"/>
<path d="M470.8 167.7L471.3 166.9L471.8 166.7L472.3 166.5L472.8 167.1L473.3 167.3L473.8 168.1L474.3 167.8L474.8 167.8L475.3 167.7L475.9 167.7L476.4 168.6L476.9 168.3L477.4 168.6L477.9 168.7L478.4 168.0L478.9 168.1L479.4 167.7L479.9 167.7L480.4 167.7L480.9 167.7L481.4 167.5L481.9 168.1L482.4 167.8L482.9 168.0L483.4 168.5L483.9 168.4L484.4 168.5L484.9 168.7L485.5 168.7L486.0 169.0L486.5 167.9L487.0 168.5L487.5 168.2L488.0 167.3L488.5 167.2L489.0 166.8L489.5 167.1L490.0 166.8L490.5 166.7L491.0 167.2L491.5 167.5L492.0 167.2L492.5 167.3L493.0 167.4L493.5 167.6L494.0 167.6L494.6 167.6L495.1 168.0L495.6 167.2L496.1 167.2L496.6 167.5L497.1 167.4L497.6 167.3L498.1 167.3L498.6 167.6L499.1 168.1L499.6 167.9L500.1 167.7L500.6 167.9L501.1 167.7L501.6 167.0L502.1 167.4L502.6 167.4L503.1 167.3L503.6 167.7L504.2 167.8L504.7 167.5L505.2 166.8L505.7 166.5L506.2 167.0L506.7 167.3L507.2 167.7L507.7 167.8L508.2 167.6L508.7 167.2L508.7 171.1L508.2 171.8L507.7 171.5L507.2 172.1L506.7 172.4L506.2 171.7L505.7 170.8L505.2 172.3L504.7 172.9L504.2 173.2L503.6 173.1L503.1 171.9L502.6 172.1L502.1 171.6L501.6 170.7L501.1 171.6L500.6 171.9L500.1 170.7L499.6 171.2L499.1 170.9L498.6 171.8L498.1 171.8L497.6 172.6L497.1 172.9L496.6 172.8L496.1 172.3L495.6 173.0L495.1 172.5L494.6 173.0L494.0 172.6L493.5 171.5L493.0 172.0L492.5 171.5L492.0 172.7L491.5 172.8L491.0 171.8L490.5 172.2L490.0 173.4L489.5 172.7L489.0 172.8L488.5 172.6L488.0 171.9L487.5 171.6L487.0 171.9L486.5 171.5L486.0 173.3L485.5 172.6L484.9 173.4L484.4 172.9L483.9 173.5L483.4 173.0L482.9 173.0L482.4 172.7L481.9 172.4L481.4 172.8L480.9 172.5L480.4 172.6L479.9 172.3L479.4 173.5L478.9 172.5L478.4 171.7L477.9 170.6L477.4 171.1L476.9 171.7L476.4 172.0L475.9 172.0L475.3 171.8L474.8 172.3L474.3 170.9L473.8 171.4L473.3 171.0L472.8 171.6L472.3 172.2L471.8 171.5L471.3 171.9L470.8 171.8z" fill="#ff0000"/>
<path d="M480.0 172.5h2.0v2.0h-2.0zM471.8 171.6h2.0v2.0h-2.0zM478.5 172.5h2.0v2.0h-2.0zM506.4 171.7h2.0v2.0h-2.0zM492.6 171.7h2.0v2.0h-2.0zM492.9 171.6h2.0v2.0h-2.0zM482.0 172.9h2.0v2.0h-2.0zM473.3 173.0h2.0v2.0h-2.0zM484.1 172.7h2.0v2.0h-2.0z" fill="#000"/>
<path d="M470.1 155.2L470.6 158.4L471.1 161.0L471.6 161.9L472.1 162.6L472.6 164.0L473.1 164.3L473.6 164.6L474.1 164.4L474.6 165.0L475.1 164.7L475.6 164.2L476.1 164.4L476.6 164.4L477.1 164.9L477.6 164.7L478.1 164.8L478.6 164.7L479.1 164.9L479.6 164.6L480.1 165.2L480.6 164.4L481.1 164.4L481.6 164.2L482.1 164.7L482.6 164.8L483.1 165.0L483.6 164.8L484.1 164.5L484.6 164.1L485.1 164.2L485.6 164.2L486.1 164.6L486.6 164.8L487.1 165.3L487.6 165.0L488.1 164.6L488.6 164.2L489.1 164.5L489.7 164.8L490.2 165.7L490.7 165.4L491.2 165.9L491.7 166.3L492.2 165.2L492.7 165.6L493.2 165.8L493.7 166.0L494.2 165.5L494.7 165.7L495.2 165.1L495.7 164.9L496.2 164.9L496.7 165.7L497.2 165.2L497.7 165.5L498.2 165.2L498.7 164.7L499.2 164.9L499.7 165.1L500.2 164.7L500.7 165.0L501.2 164.6L501.7 164.3L502.2 164.6L502.7 164.6L503.2 164.2L503.7 163.7L504.2 164.2L504.7 164.5L505.2 164.4L505.7 164.7L506.2 164.0L506.7 164.5L507.2 164.8L507.7 164.9L508.2 164.6L508.7 164.7L508.7 169.0L508.2 168.0L507.7 169.6L507.2 169.4L506.7 171.2L506.2 170.8L505.7 171.1L505.2 171.5L504.7 169.9L504.2 168.8L503.7 169.2L503.2 169.7L502.7 171.4L502.2 170.6L501.7 170.2L501.2 170.1L500.7 170.5L500.2 170.4L499.7 170.5L499.2 170.9L498.7 171.1L498.2 170.3L497.7 170.2L497.2 170.5L496.7 170.2L496.2 170.9L495.7 170.8L495.2 171.7L494.7 171.2L494.2 170.4L493.7 169.4L493.2 169.8L492.7 170.7L492.2 169.9L491.7 169.5L491.2 170.3L490.7 170.4L490.2 170.4L489.7 169.5L489.1 170.0L488.6 170.5L488.1 170.5L487.6 170.7L487.1 171.2L486.6 170.6L486.1 170.6L485.6 171.1L485.1 170.3L484.6 170.0L484.1 169.6L483.6 170.0L483.1 170.3L482.6 170.4L482.1 171.1L481.6 170.7L481.1 170.6L480.6 170.2L480.1 170.7L479.6 170.6L479.1 170.2L478.6 170.2L478.1 170.7L477.6 169.8L477.1 170.0L476.6 169.5L476.1 170.9L475.6 169.6L475.1 170.5L474.6 170.7L474.1 170.8L473.6 170.5L473.1 171.2L472.6 170.6L472.1 170.1L471.6 170.7L471.1 170.8L470.6 170.9L470.1 170.3z" fill="#0000ff"/>
<path d="M493.5 165.4h3.2l-1.6 -2.7zM501.1 165.4h3.2l-1.6 -2.7zM507.1 164.8h3.2l-1.6 -2.7zM479.3 163.5h3.2l-1.6 -2.7zM482.8 164.9h3.2l-1.6 -2.7zM483.5 164.3h3.2l-1.6 -2.7zM472.0 165.0h3.2l-1.6 -2.7zM477.0 163.9h3.2l-1.6 -2.7zM471.2 164.4h3.2l-1.6 -2.7zM480.5 164.8h3.2l-1.6 -2.7zM491.4 164.2h3.2l-1.6 -2.7zM476.1 165.3h3.2l-1.6 -2.7zM475.5 163.5h3.2l-1.6 -2.7zM476.6 165.6h3.2l-1.6 -2.7zM489.9 164.5h3.2l-1.6 -2.7zM503.0 165.8h3.2l-1.6 -2.7z" fill="#0000ff"/>
<path d="M480.2 166.4a1.0 1.0 0 1 0 2.0 0a1.0 1.0 0 1 0 -2.0 0M492.8 165.4a1.0 1.0 0 1 0 2.0 0a1.0 1.0 0 1 0 -2.0 0M486.5 163.9a1.0 1.0 0 1 0 2.0 0a1.0 1.0 0 1 0 -2.0 0M495.6 164.0a1.0 1.0 0 1 0 2.0 0a1.0 1.0 0 1 0 -2.0 0M506.2 166.1a1.0 1.0 0 1 0 2.0 0a1.0 1.0 0 1 0 -2.0 0" fill="#ff0000"/>
<path d="M469.1 148.3h3.0l-1.5 -2.5zM469.6 152.3h3.0l-1.5 -2.5zM470.1 156.3h3.0l-1.5 -2.5zM470.5 159.8h3.0l-1.5 -2.5zM470.8 162.8h3.0l-1.5 -2.5z" fill="#0000ff"/>
<path d="M549.8 167.9L550.3 167.6L550.8 168.4L551.3 168.3L551.8 168.1L552.3 167.9L552.8 167.7L553.3 167.9L553.8 168.6L554.3 168.0L554.9 167.4L555.4 167.7L555.9 168.1L556.4 167.3L556.9 167.1L557.4 166.9L557.9 167.4L558.4 167.7L558.9 167.3L559.4 167.0L559.9 167.5L560.4 166.7L560.9 167.3L561.4 167.4L561.9 168.2L562.4 168.4L562.9 167.8L563.4 167.6L563.9 167.5L564.5 167.3L565.0 167.4L565.5 167.9L566.0 167.2L566.5 167.3L567.0 168.0L567.5 168.2L568.0 167.6L568.5 167.3L569.0 167.1L569.5 166.7L570.0 167.5L570.5 167.6L571.0 167.4L571.5 166.9L572.0 167.1L572.5 167.1L573.0 168.0L573.6 167.7L574.1 167.8L574.6 168.2L575.1 168.2L575.6 168.0L576.1 167.0L576.6 167.8L577.1 168.0L577.6 167.7L578.1 167.7L578.6 167.3L579.1 167.1L579.6 166.8L580.1 167.4L580.6 167.7L581.1 167.8L581.6 168.1L582.1 168.2L582.6 168.1L583.2 167.6L583.7 167.9L584.2 168.3L584.7 168.4L585.2 168.6L585.7 168.1L586.2 167.6L586.7 168.2L587.2 167.8L587.7 167.9L587.7 172.4L587.2 172.2L586.7 172.0L586.2 173.2L585.7 173.3L585.2 172.8L584.7 172.7L584.2 172.3L583.7 171.4L583.2 172.2L582.6 171.7L582.1 171.9L581.6 171.8L581.1 172.3L580.6 172.5L580.1 172.6L579.6 172.3L579.1 172.7L578.6 172.0L578.1 171.8L577.6 172.0L577.1 172.6L576.6 172.9L576.1 171.8L575.6 171.5L575.1 171.9L574.6 172.6L574.1 172.5L573.6 172.5L573.0 172.5L572.5 172.3L572.0 172.2L571.5 172.8L571.0 172.4L570.5 172.9L570.0 172.4L569.5 172.9L569.0 173.4L568.5 173.7L568.0 173.4L567.5 172.7L567.0 173.0L566.5 173.2L566.0 172.5L565.5 172.8L565.0 173.2L564.5 173.2L563.9 172.6L563.4 172.2L562.9 172.1L562.4 172.0L561.9 172.4L561.4 172.5L560.9 172.6L560.4 171.7L559.9 171.7L559.4 171.7L558.9 172.7L558.4 172.0L557.9 172.8L557.4 172.7L556.9 172.4L556.4 172.6L555.9 171.5L555.4 170.4L554.9 171.3L554.3 171.2L553.8 171.4L553.3 171.5L552.8 172.6L552.3 172.6L551.8 171.2L551.3 171.9L550.8 172.1L550.3 172.3L549.8 172.2z" fill="#ff0000"/>
<path d="M574.3 171.9h2.0v2.0h-2.0zM554.9 172.6h2.0v2.0h-2.0zM571.3 172.8h2.0v2.0h-2.0zM573.2 172.5h2.0v2.0h-2.0zM559.3 172.2h2.0v2.0h-2.0zM569.5 171.6h2.0v2.0h-2.0zM550.9 171.6h2.0v2.0h-2.0zM558.0 172.4h2.0v2.0h-2.0zM573.4 171.6h2.0v2.0h-2.0z" fill="#000"/>
<path d="M549.1 154.1L549.6 156.8L550.1 159.4L550.6 161.5L551.1 162.3L551.6 162.8L552.1 163.6L552.6 164.2L553.1 164.5L553.6 163.7L554.1 163.9L554.6 163.1L555.1 163.9L555.6 163.9L556.1 163.9L556.6 164.9L557.1 165.5L557.6 165.4L558.1 165.3L558.6 165.2L559.1 164.8L559.6 164.8L560.1 165.6L560.6 164.9L561.1 164.6L561.6 164.7L562.1 165.2L562.6 165.4L563.1 164.7L563.6 164.7L564.1 164.6L564.6 164.2L565.1 164.4L565.6 164.4L566.1 164.9L566.6 165.1L567.1 164.6L567.6 164.7L568.1 164.6L568.7 164.4L569.2 164.3L569.7 165.0L570.2 164.7L570.7 164.0L571.2 164.0L571.7 164.7L572.2 165.7L572.7 164.9L573.2 164.7L573.7 164.6L574.2 164.1L574.7 164.5L575.2 164.6L575.7 164.8L576.2 165.8L576.7 165.3L577.2 165.4L577.7 165.5L578.2 165.0L578.7 164.6L579.2 165.4L579.7 165.5L580.2 165.3L580.7 164.6L581.2 165.1L581.7 165.2L582.2 166.0L582.7 166.2L583.2 166.0L583.7 165.6L584.2 165.3L584.7 164.9L585.2 165.0L585.7 165.0L586.2 165.2L586.7 165.5L587.2 165.4L587.7 164.9L587.7 169.4L587.2 170.5L586.7 169.6L586.2 170.1L585.7 169.6L585.2 169.4L584.7 169.7L584.2 169.8L583.7 169.2L583.2 169.4L582.7 169.4L582.2 169.5L581.7 168.8L581.2 169.5L580.7 169.3L580.2 171.6L579.7 171.6L579.2 170.2L578.7 170.2L578.2 171.3L577.7 170.8L577.2 170.4L576.7 171.7L576.2 170.5L575.7 170.4L575.2 170.2L574.7 170.5L574.2 170.0L573.7 170.5L573.2 169.8L572.7 169.6L572.2 170.7L571.7 169.9L571.2 170.0L570.7 169.0L570.2 169.5L569.7 170.8L569.2 171.1L568.7 170.0L568.1 170.8L567.6 170.4L567.1 169.6L566.6 170.8L566.1 170.7L565.6 171.3L565.1 170.6L564.6 170.2L564.1 170.8L563.6 170.7L563.1 171.1L562.6 171.2L562.1 170.7L561.6 171.1L561.1 171.0L560.6 172.0L560.1 172.0L559.6 171.7L559.1 170.4L558.6 169.6L558.1 169.8L557.6 169.6L557.1 168.8L556.6 169.5L556.1 169.5L555.6 169.6L555.1 168.8L554.6 170.4L554.1 171.9L553.6 171.3L553.1 170.4L552.6 170.6L552.1 170.9L551.6 170.8L551.1 170.7L550.6 170.6L550.1 170.4L549.6 171.4L549.1 170.7z" fill="#0000ff"/>
<path d="M581.8 165.6h3.2l-1.6 -2.7zM583.9 164.1h3.2l-1.6 -2.7zM574.5 164.3h3.2l-1.6 -2.7zM551.9 163.8h3.2l-1.6 -2.7zM569.9 164.8h3.2l-1.6 -2.7zM562.4 164.0h3.2l-1.6 -2.7zM578.3 163.8h3.2l-1.6 -2.7zM557.9 165.1h3.2l-1.6 -2.7zM559.2 165.7h3.2l-1.6 -2.7zM561.9 165.9h3.2l-1.6 -2.7zM578.8 165.4h3.2l-1.6 -2.7zM552.7 165.8h3.2l-1.6 -2.7zM576.8 165.4h3.2l-1.6 -2.7zM566.8 164.9h3.2l-1.6 -2.7zM579.0 163.6h3.2l-1.6 -2.7zM561.3 164.4h3.2l-1.6 -2.7z" fill="#0000ff"/>
<path d="M582.9 165.4a1.0 1.0 0 1 0 2.0 0a1.0 1.0 0 1 0 -2.0 0M583.1 164.4a1.0 1.0 0 1 0 2.0 0a1.0 1.0 0 1 0 -2.0 0M562.0 163.9a1.0 1.0 0 1 0 2.0 0a1.0 1.0 0 1 0 -2.0 0M571.4 166.6a1.0 1.0 0 1 0 2.0 0a1.0 1.0 0 1 0 -2.0 0M571.9 164.1a1.0 1.0 0 1 0 2.0 0a1.0 1.0 0 1 0 -2.0 0" fill="#ff0000"/>
<path d="M548.1 148.3h3.0l-1.5 -2.5zM548.6 152.3h3.0l-1.5 -2.5zM549.1 156.3h3.0l-1.5 -2.5zM549.5 159.8h3.0l-1.5 -2.5zM549.8 162.8h3.0l-1.5 -2.5z" fill="#0000ff"/>
<path d="M351.3 170V108M390.8 110V164M430.3 108V164M469.8 108V164M509.3 108V164M548.8 108V164" stroke="#0000ff" stroke-width="0.9" fill="none"/>
<path d="M351.4 170V177" stroke="#ff0000" stroke-width="1.0"/>
<path d="M351.3 197.4v3.5M351.3 6.1v3.5M371.1 197.4v2M371.1 6.1v2M390.8 197.4v3.5M390.8 6.1v3.5M410.6 197.4v2M410.6 6.1v2M430.3 197.4v3.5M430.3 6.1v3.5M450.0 197.4v2M450.0 6.1v2M469.8 197.4v3.5M469.8 6.1v3.5M489.5 197.4v2M489.5 6.1v2M509.3 197.4v3.5M509.3 6.1v3.5M529.0 197.4v2M529.0 6.1v2M548.8 197.4v3.5M548.8 6.1v3.5M568.5 197.4v2M568.5 6.1v2M588.3 197.4v3.5M588.3 6.1v3.5M351.3 197.4h-3.5M588.3 197.4h-3.5M351.3 183.7h-2M588.3 183.7h-2M351.3 170.1h-3.5M588.3 170.1h-3.5M351.3 156.4h-2M588.3 156.4h-2M351.3 142.7h-3.5M588.3 142.7h-3.5M351.3 129.1h-2M588.3 129.1h-2M351.3 115.4h-3.5M588.3 115.4h-3.5M351.3 101.8h-2M588.3 101.8h-2M351.3 88.1h-3.5M588.3 88.1h-3.5M351.3 74.4h-2M588.3 74.4h-2M351.3 60.8h-3.5M588.3 60.8h-3.5M351.3 47.1h-2M588.3 47.1h-2M351.3 33.4h-3.5M588.3 33.4h-3.5M351.3 19.8h-2M588.3 19.8h-2M351.3 6.1h-3.5M588.3 6.1h-3.5" stroke="#333333" stroke-width="1" fill="none"/>
<rect x="351.3" y="6.1" width="237.0" height="191.3" stroke="#333333" stroke-width="1.3" fill="none"/>
<text transform="translate(351.30 213.30) scale(1 1.08)" font-size="12.3" text-anchor="middle"  stroke="#1a1a1a" stroke-width="0.22">0</text>
<text transform="translate(390.80 213.30) scale(1 1.08)" font-size="12.3" text-anchor="middle"  stroke="#1a1a1a" stroke-width="0.22">355</text>
<text transform="translate(430.30 213.30) scale(1 1.08)" font-size="12.3" text-anchor="middle"  stroke="#1a1a1a" stroke-width="0.22">710</text>
<text transform="translate(469.80 213.30) scale(1 1.08)" font-size="12.3" text-anchor="middle"  stroke="#1a1a1a" stroke-width="0.22">1065</text>
<text transform="translate(509.30 213.30) scale(1 1.08)" font-size="12.3" text-anchor="middle"  stroke="#1a1a1a" stroke-width="0.22">1420</text>
<text transform="translate(548.80 213.30) scale(1 1.08)" font-size="12.3" text-anchor="middle"  stroke="#1a1a1a" stroke-width="0.22">1775</text>
<text transform="translate(588.30 213.30) scale(1 1.08)" font-size="12.3" text-anchor="middle"  stroke="#1a1a1a" stroke-width="0.22">2130</text>
<text transform="translate(345.00 201.00) scale(1 1.08)" font-size="12.3" text-anchor="end"  stroke="#1a1a1a" stroke-width="0.22">-100</text>
<text transform="translate(345.00 173.67) scale(1 1.08)" font-size="12.3" text-anchor="end"  stroke="#1a1a1a" stroke-width="0.22">0</text>
<text transform="translate(345.00 146.34) scale(1 1.08)" font-size="12.3" text-anchor="end"  stroke="#1a1a1a" stroke-width="0.22">100</text>
<text transform="translate(345.00 119.01) scale(1 1.08)" font-size="12.3" text-anchor="end"  stroke="#1a1a1a" stroke-width="0.22">200</text>
<text transform="translate(345.00 91.69) scale(1 1.08)" font-size="12.3" text-anchor="end"  stroke="#1a1a1a" stroke-width="0.22">300</text>
<text transform="translate(345.00 64.36) scale(1 1.08)" font-size="12.3" text-anchor="end"  stroke="#1a1a1a" stroke-width="0.22">400</text>
<text transform="translate(345.00 37.03) scale(1 1.08)" font-size="12.3" text-anchor="end"  stroke="#1a1a1a" stroke-width="0.22">500</text>
<text transform="translate(345.00 9.70) scale(1 1.08)" font-size="12.3" text-anchor="end"  stroke="#1a1a1a" stroke-width="0.22">600</text>
<text transform="translate(469.80 234.60) scale(1 1.03)" font-size="12.5" text-anchor="middle"  stroke="#1a1a1a" stroke-width="0.22">Time, <tspan font-style="italic">t</tspan> (ms)</text>
<text transform="translate(310.8 110.4) rotate(-90) scale(1 0.9)" font-size="12.8" stroke="#1a1a1a" stroke-width="0.22" text-anchor="middle">Photocurrent, <tspan font-style="italic">I</tspan><tspan font-size="7" dy="3">p</tspan><tspan dy="-3"> (nA)</tspan></text>
<text transform="translate(529.30 189.70) scale(1 1.04)" font-size="13.2" text-anchor="middle" fill="#ff0000" stroke="none" stroke-width="0.22">ON</text>
<text transform="translate(569.40 189.70) scale(1 1.04)" font-size="13.2" text-anchor="middle" fill="#ff0000" stroke="none" stroke-width="0.22">OFF</text>
<text transform="translate(354.50 18.80) scale(1 1.1)" font-size="12" text-anchor="start"  stroke="#1a1a1a" stroke-width="0.22">(b)</text>
<text transform="translate(354.30 31.60) scale(1 1.1)" font-size="9.9" text-anchor="start"  stroke="#1a1a1a" stroke-width="0.08">PC characteristics</text>
<text transform="translate(354.30 43.80) scale(1 1.1)" font-size="10.1" text-anchor="start"  stroke="#1a1a1a" stroke-width="0.08">435 mW</text>
<text transform="translate(355.2 56.0) scale(1 1.06)" font-size="10.8" stroke="#1a1a1a" stroke-width="0.22"><tspan font-style="italic">V</tspan><tspan font-size="6.6" dy="3.2">bias</tspan><tspan dy="-3.2" dx="1.6" font-size="10.2">= +2.0 V</tspan></text>
<rect x="354.5" y="62.8" width="61.6" height="35.0" fill="#fff" stroke="#a0a0a0" stroke-width="1"/>
<path d="M356.8 69.7H377.6" stroke-width="1.0" stroke="#000"/>
<path d="M356.8 80.8H377.6" stroke-width="1.0" stroke="#ff0000"/>
<path d="M356.8 91.2H377.6" stroke-width="1.0" stroke="#0000ff"/>
<rect x="365.1" y="67.2" width="5" height="5" fill="#000"/>
<circle cx="367.6" cy="80.8" r="2.8" fill="#ff0000"/>
<path d="M364.4 93.9h6.4l-3.2 -5.9z" fill="#0000ff"/>
<text transform="translate(379.90 73.00) scale(1 1.1)" font-size="9.5" text-anchor="start"  stroke="#1a1a1a" stroke-width="0.08">Device D</text>
<text transform="translate(379.90 84.10) scale(1 1.1)" font-size="9.5" text-anchor="start"  stroke="#1a1a1a" stroke-width="0.08">Device E</text>
<text transform="translate(379.90 94.50) scale(1 1.1)" font-size="9.5" text-anchor="start"  stroke="#1a1a1a" stroke-width="0.08">Device F</text>
<rect x="430.3" y="6.1" width="158" height="95.1" fill="#fff" stroke="#333" stroke-width="1"/>
<path d="M499.5 11.9V87.4M512.7 11.9V87.4" stroke="#333" stroke-width="1" stroke-dasharray="1.5 1.5"/>
<path d="M452.3 75.7L468.7 75.7L472.8 79.2L477.9 75.7L483.0 75.7L489.1 74.5L495.3 75.7L499.4 75.7L508.6 28.8L513.7 28.8L519.8 21.7L525.0 26.4L530.1 24.8L535.2 27.1L544.4 22.2L554.6 26.4L575.1 26.4" stroke="#0000ff" stroke-width="1.15" fill="none" stroke-linejoin="round"/>
<path d="M452.3 87.4v2.5M452.3 11.9v2.5M462.5 87.4v1.5M462.5 11.9v1.5M472.8 87.4v2.5M472.8 11.9v2.5M483.0 87.4v1.5M483.0 11.9v1.5M493.2 87.4v2.5M493.2 11.9v2.5M503.5 87.4v1.5M503.5 11.9v1.5M513.7 87.4v2.5M513.7 11.9v2.5M523.9 87.4v1.5M523.9 11.9v1.5M534.2 87.4v2.5M534.2 11.9v2.5M544.4 87.4v1.5M544.4 11.9v1.5M554.6 87.4v2.5M554.6 11.9v2.5M564.9 87.4v1.5M564.9 11.9v1.5M575.1 87.4v2.5M575.1 11.9v2.5M452.3 87.4h-2.5M575.1 87.4h-2.5M452.3 81.5h-1.5M575.1 81.5h-1.5M452.3 75.7h-2.5M575.1 75.7h-2.5M452.3 69.8h-1.5M575.1 69.8h-1.5M452.3 64.0h-2.5M575.1 64.0h-2.5M452.3 58.1h-1.5M575.1 58.1h-1.5M452.3 52.2h-2.5M575.1 52.2h-2.5M452.3 46.4h-1.5M575.1 46.4h-1.5M452.3 40.5h-2.5M575.1 40.5h-2.5M452.3 34.6h-1.5M575.1 34.6h-1.5M452.3 28.8h-2.5M575.1 28.8h-2.5M452.3 22.9h-1.5M575.1 22.9h-1.5M452.3 17.1h-2.5M575.1 17.1h-2.5M452.3 11.2h-1.5M575.1 11.2h-1.5" stroke="#333" stroke-width="1" fill="none"/>
<rect x="452.3" y="11.9" width="122.8" height="75.5" stroke="#333" stroke-width="1" fill="none"/>
<text transform="translate(452.30 96.70) scale(1.12 1)" font-size="9" text-anchor="middle"  stroke="#1a1a1a" stroke-width="0.08">190</text>
<text transform="translate(472.77 96.70) scale(1.12 1)" font-size="9" text-anchor="middle"  stroke="#1a1a1a" stroke-width="0.08">200</text>
<text transform="translate(493.23 96.70) scale(1.12 1)" font-size="9" text-anchor="middle"  stroke="#1a1a1a" stroke-width="0.08">210</text>
<text transform="translate(513.70 96.70) scale(1.12 1)" font-size="9" text-anchor="middle"  stroke="#1a1a1a" stroke-width="0.08">220</text>
<text transform="translate(534.17 96.70) scale(1.12 1)" font-size="9" text-anchor="middle"  stroke="#1a1a1a" stroke-width="0.08">230</text>
<text transform="translate(554.63 96.70) scale(1.12 1)" font-size="9" text-anchor="middle"  stroke="#1a1a1a" stroke-width="0.08">240</text>
<text transform="translate(575.10 96.70) scale(1.12 1)" font-size="9" text-anchor="middle"  stroke="#1a1a1a" stroke-width="0.08">250</text>
<text transform="translate(448.50 89.90) scale(1.3 1)" font-size="7.4" text-anchor="end"  stroke="#1a1a1a" stroke-width="0.08">-50</text>
<text transform="translate(448.50 78.18) scale(1.3 1)" font-size="7.4" text-anchor="end"  stroke="#1a1a1a" stroke-width="0.08">0</text>
<text transform="translate(448.50 66.45) scale(1.3 1)" font-size="7.4" text-anchor="end"  stroke="#1a1a1a" stroke-width="0.08">50</text>
<text transform="translate(448.50 54.73) scale(1.3 1)" font-size="7.4" text-anchor="end"  stroke="#1a1a1a" stroke-width="0.08">100</text>
<text transform="translate(448.50 43.01) scale(1.3 1)" font-size="7.4" text-anchor="end"  stroke="#1a1a1a" stroke-width="0.08">150</text>
<text transform="translate(448.50 31.28) scale(1.3 1)" font-size="7.4" text-anchor="end"  stroke="#1a1a1a" stroke-width="0.08">200</text>
<text transform="translate(448.50 19.56) scale(1.3 1)" font-size="7.4" text-anchor="end"  stroke="#1a1a1a" stroke-width="0.08">250</text>
<rect x="459.3" y="21.2" width="39.2" height="12.7" fill="#000"/>
<rect x="455.8" y="17.7" width="39.2" height="12.7" fill="#fff" stroke="#444" stroke-width="0.8"/>
<text transform="translate(459.30 27.20) scale(1 1.1)" font-size="9" text-anchor="start"  stroke="#1a1a1a" stroke-width="0.08">Device F</text>
<text transform="translate(525.30 81.30) scale(1 1.1)" font-size="11" text-anchor="start"  stroke="#1a1a1a" stroke-width="0.22">435 mW</text>
</g></svg>
</body></html>
